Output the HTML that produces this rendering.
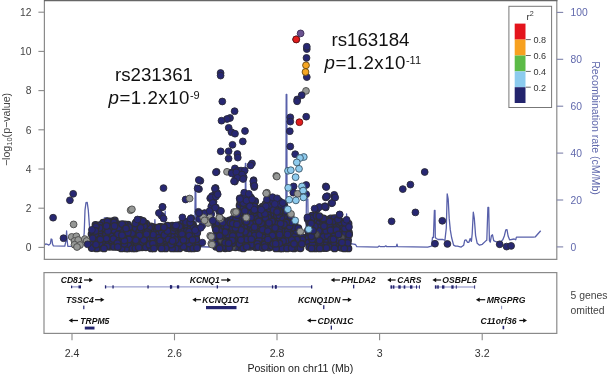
<!DOCTYPE html>
<html><head><meta charset="utf-8"><style>html,body{margin:0;padding:0;background:#fff;width:609px;height:375px;overflow:hidden}svg{display:block;will-change:transform}</style></head><body>
<svg width="609" height="375" viewBox="0 0 609 375">
<rect width="609" height="375" fill="#fff"/>
<path d="M44.3,245.1 L45.8,243.9 L47.3,244.3 L48.8,245.1 L50.4,243.6 L51.1,239.0 L51.9,239.3 L52.6,244.3 L53.4,245.9 L64.8,246.2 L66.0,240.6 L66.6,231.0 L67.2,240.6 L67.8,246.3 L82.5,246.3 L83.3,240.6 L84.2,233.0 L85.0,210.2 L86.0,202.6 L87.2,202.3 L88.3,210.2 L89.4,225.4 L90.3,234.5 L92.1,235.2 L100.0,236.0 L103.5,231.0 L104.3,217.8 L107.3,217.8 L108.0,231.0 L115.0,236.0 L150.0,236.0 L154.5,232.0 L154.9,219.6 L155.3,232.0 L164.8,232.0 L165.2,211.2 L165.6,232.0 L194.8,232.0 L195.2,185.0 L195.8,185.0 L196.2,246.5 L209.0,247.0 L209.5,240.0 L210.0,247.0 L240.0,246.0 L245.2,246.0 L245.4,163.5 L245.8,163.5 L246.1,240.0 L285.8,240.0 L286.2,94.4 L286.8,94.4 L287.1,240.0 L306.0,240.0 L306.4,199.0 L307.8,199.0 L308.3,231.0 L346.2,231.0 L346.6,214.0 L347.0,243.0 L353.6,244.1 L355.5,244.5 L356.8,246.7 L377.9,247.1 L379.2,246.0 L380.5,246.7 L384.5,246.7 L385.8,245.8 L386.8,246.7 L396.3,246.7 L397.0,244.1 L397.6,246.7 L427.7,247.1 L431.5,246.2 L432.5,237.5 L433.4,237.5 L434.4,210.3 L435.0,210.3 L435.3,237.5 L436.3,238.5 L438.2,239.5 L443.0,239.5 L444.9,240.4 L446.3,228.0 L447.2,193.8 L448.2,199.2 L449.2,218.4 L450.3,229.9 L451.6,237.5 L453.6,245.2 L455.5,246.2 L457.4,246.2 L461.2,247.1 L463.7,245.2 L464.7,240.4 L466.0,239.8 L467.6,242.3 L468.9,242.3 L470.2,238.5 L471.4,241.4 L472.2,233.7 L473.3,212.2 L474.3,218.4 L475.6,235.6 L477.2,243.3 L479.5,245.2 L482.3,244.3 L486.1,240.6 L486.8,240.2 L487.9,207.5 L488.7,207.5 L489.4,240.6 L490.3,242.1 L491.4,235.7 L492.5,234.8 L493.7,240.6 L495.2,241.3 L497.5,242.1 L499.7,242.8 L502.8,239.8 L504.3,236.0 L505.8,229.9 L507.0,229.6 L508.1,236.0 L509.6,239.8 L514.2,239.0 L515.7,239.8 L516.4,237.2 L533.1,237.2 L535.4,236.8 L540.7,230.7" fill="none" stroke="#5860aa" stroke-width="1.3" stroke-linejoin="round"/>
<circle cx="217.8" cy="239.5" r="3.3" fill="#262670" stroke="#2e2e36" stroke-width="1.3"/>
<circle cx="113.1" cy="242.6" r="3.3" fill="#262670" stroke="#2e2e36" stroke-width="1.3"/>
<circle cx="120.9" cy="226.9" r="3.3" fill="#262670" stroke="#2e2e36" stroke-width="1.3"/>
<circle cx="330.9" cy="218.5" r="3.3" fill="#262670" stroke="#2e2e36" stroke-width="1.3"/>
<circle cx="247.8" cy="242.5" r="3.4" fill="#4c4c54" stroke="#38383c" stroke-width="0.9"/>
<circle cx="170.9" cy="227.3" r="3.3" fill="#262670" stroke="#2e2e36" stroke-width="1.3"/>
<circle cx="117.0" cy="238.4" r="3.3" fill="#262670" stroke="#2e2e36" stroke-width="1.3"/>
<circle cx="219.7" cy="243.0" r="3.3" fill="#262670" stroke="#2e2e36" stroke-width="1.3"/>
<circle cx="255.6" cy="247.3" r="3.3" fill="#262670" stroke="#2e2e36" stroke-width="1.3"/>
<circle cx="265.7" cy="211.4" r="3.3" fill="#262670" stroke="#2e2e36" stroke-width="1.3"/>
<circle cx="334.5" cy="218.2" r="3.3" fill="#262670" stroke="#2e2e36" stroke-width="1.3"/>
<circle cx="251.8" cy="201.0" r="3.3" fill="#262670" stroke="#2e2e36" stroke-width="1.3"/>
<circle cx="244.0" cy="235.5" r="3.3" fill="#262670" stroke="#2e2e36" stroke-width="1.3"/>
<circle cx="326.8" cy="227.2" r="3.3" fill="#262670" stroke="#2e2e36" stroke-width="1.3"/>
<circle cx="178.4" cy="231.6" r="3.3" fill="#262670" stroke="#2e2e36" stroke-width="1.3"/>
<circle cx="225.2" cy="248.3" r="3.3" fill="#262670" stroke="#2e2e36" stroke-width="1.3"/>
<circle cx="113.0" cy="234.4" r="3.3" fill="#262670" stroke="#2e2e36" stroke-width="1.3"/>
<circle cx="117.6" cy="224.2" r="3.3" fill="#262670" stroke="#2e2e36" stroke-width="1.3"/>
<circle cx="140.1" cy="219.9" r="3.3" fill="#262670" stroke="#2e2e36" stroke-width="1.3"/>
<circle cx="230.3" cy="231.3" r="3.3" fill="#262670" stroke="#2e2e36" stroke-width="1.3"/>
<circle cx="341.4" cy="235.5" r="3.3" fill="#262670" stroke="#2e2e36" stroke-width="1.3"/>
<circle cx="330.5" cy="243.9" r="3.3" fill="#262670" stroke="#2e2e36" stroke-width="1.3"/>
<circle cx="265.6" cy="222.4" r="3.3" fill="#262670" stroke="#2e2e36" stroke-width="1.3"/>
<circle cx="178.9" cy="225.1" r="3.3" fill="#262670" stroke="#2e2e36" stroke-width="1.3"/>
<circle cx="237.6" cy="239.6" r="3.3" fill="#262670" stroke="#2e2e36" stroke-width="1.3"/>
<circle cx="102.3" cy="232.0" r="3.3" fill="#262670" stroke="#2e2e36" stroke-width="1.3"/>
<circle cx="132.0" cy="245.4" r="3.3" fill="#262670" stroke="#2e2e36" stroke-width="1.3"/>
<circle cx="240.5" cy="201.0" r="3.3" fill="#262670" stroke="#2e2e36" stroke-width="1.3"/>
<circle cx="273.1" cy="238.4" r="3.3" fill="#262670" stroke="#2e2e36" stroke-width="1.3"/>
<circle cx="265.4" cy="240.8" r="3.3" fill="#262670" stroke="#2e2e36" stroke-width="1.3"/>
<circle cx="283.7" cy="226.8" r="3.3" fill="#262670" stroke="#2e2e36" stroke-width="1.3"/>
<circle cx="196.0" cy="235.4" r="3.3" fill="#262670" stroke="#2e2e36" stroke-width="1.3"/>
<circle cx="127.8" cy="236.8" r="3.3" fill="#262670" stroke="#2e2e36" stroke-width="1.3"/>
<circle cx="326.1" cy="244.5" r="3.3" fill="#262670" stroke="#2e2e36" stroke-width="1.3"/>
<circle cx="324.1" cy="243.0" r="3.3" fill="#262670" stroke="#2e2e36" stroke-width="1.3"/>
<circle cx="229.7" cy="220.4" r="3.3" fill="#262670" stroke="#2e2e36" stroke-width="1.3"/>
<circle cx="348.5" cy="223.7" r="3.3" fill="#262670" stroke="#2e2e36" stroke-width="1.3"/>
<circle cx="91.6" cy="234.1" r="3.3" fill="#262670" stroke="#2e2e36" stroke-width="1.3"/>
<circle cx="323.3" cy="238.7" r="3.3" fill="#262670" stroke="#2e2e36" stroke-width="1.3"/>
<circle cx="308.8" cy="218.0" r="3.3" fill="#262670" stroke="#2e2e36" stroke-width="1.3"/>
<circle cx="134.6" cy="235.9" r="3.3" fill="#262670" stroke="#2e2e36" stroke-width="1.3"/>
<circle cx="221.6" cy="226.6" r="3.3" fill="#262670" stroke="#2e2e36" stroke-width="1.3"/>
<circle cx="225.8" cy="221.4" r="3.3" fill="#262670" stroke="#2e2e36" stroke-width="1.3"/>
<circle cx="312.1" cy="215.6" r="3.3" fill="#262670" stroke="#2e2e36" stroke-width="1.3"/>
<circle cx="150.7" cy="235.1" r="3.3" fill="#262670" stroke="#2e2e36" stroke-width="1.3"/>
<circle cx="280.6" cy="205.7" r="3.4" fill="#4c4c54" stroke="#38383c" stroke-width="0.9"/>
<circle cx="190.6" cy="239.9" r="3.3" fill="#262670" stroke="#2e2e36" stroke-width="1.3"/>
<circle cx="289.7" cy="230.0" r="3.3" fill="#262670" stroke="#2e2e36" stroke-width="1.3"/>
<circle cx="226.4" cy="222.2" r="3.3" fill="#262670" stroke="#2e2e36" stroke-width="1.3"/>
<circle cx="252.0" cy="230.2" r="3.3" fill="#262670" stroke="#2e2e36" stroke-width="1.3"/>
<circle cx="316.5" cy="222.7" r="3.3" fill="#262670" stroke="#2e2e36" stroke-width="1.3"/>
<circle cx="250.4" cy="197.8" r="3.3" fill="#262670" stroke="#2e2e36" stroke-width="1.3"/>
<circle cx="192.9" cy="243.1" r="3.3" fill="#262670" stroke="#2e2e36" stroke-width="1.3"/>
<circle cx="336.7" cy="242.9" r="3.3" fill="#262670" stroke="#2e2e36" stroke-width="1.3"/>
<circle cx="145.4" cy="243.7" r="3.3" fill="#262670" stroke="#2e2e36" stroke-width="1.3"/>
<circle cx="294.1" cy="231.4" r="3.3" fill="#262670" stroke="#2e2e36" stroke-width="1.3"/>
<circle cx="309.7" cy="226.9" r="3.3" fill="#262670" stroke="#2e2e36" stroke-width="1.3"/>
<circle cx="337.2" cy="247.0" r="3.3" fill="#262670" stroke="#2e2e36" stroke-width="1.3"/>
<circle cx="240.0" cy="247.6" r="3.3" fill="#262670" stroke="#2e2e36" stroke-width="1.3"/>
<circle cx="264.7" cy="236.0" r="3.3" fill="#262670" stroke="#2e2e36" stroke-width="1.3"/>
<circle cx="290.4" cy="234.2" r="3.3" fill="#262670" stroke="#2e2e36" stroke-width="1.3"/>
<circle cx="258.2" cy="214.7" r="3.3" fill="#262670" stroke="#2e2e36" stroke-width="1.3"/>
<circle cx="297.6" cy="243.8" r="3.3" fill="#262670" stroke="#2e2e36" stroke-width="1.3"/>
<circle cx="172.3" cy="225.8" r="3.3" fill="#262670" stroke="#2e2e36" stroke-width="1.3"/>
<circle cx="268.9" cy="202.9" r="3.3" fill="#262670" stroke="#2e2e36" stroke-width="1.3"/>
<circle cx="243.3" cy="214.0" r="3.3" fill="#262670" stroke="#2e2e36" stroke-width="1.3"/>
<circle cx="219.6" cy="223.0" r="3.3" fill="#262670" stroke="#2e2e36" stroke-width="1.3"/>
<circle cx="103.2" cy="222.6" r="3.3" fill="#262670" stroke="#2e2e36" stroke-width="1.3"/>
<circle cx="244.4" cy="243.6" r="3.3" fill="#262670" stroke="#2e2e36" stroke-width="1.3"/>
<circle cx="250.2" cy="246.8" r="3.3" fill="#262670" stroke="#2e2e36" stroke-width="1.3"/>
<circle cx="182.7" cy="227.5" r="3.3" fill="#262670" stroke="#2e2e36" stroke-width="1.3"/>
<circle cx="242.9" cy="198.4" r="3.3" fill="#262670" stroke="#2e2e36" stroke-width="1.3"/>
<circle cx="179.4" cy="248.4" r="3.3" fill="#262670" stroke="#2e2e36" stroke-width="1.3"/>
<circle cx="230.5" cy="238.3" r="3.3" fill="#262670" stroke="#2e2e36" stroke-width="1.3"/>
<circle cx="247.5" cy="229.6" r="3.3" fill="#262670" stroke="#2e2e36" stroke-width="1.3"/>
<circle cx="320.3" cy="236.0" r="3.3" fill="#262670" stroke="#2e2e36" stroke-width="1.3"/>
<circle cx="179.2" cy="234.2" r="3.3" fill="#262670" stroke="#2e2e36" stroke-width="1.3"/>
<circle cx="273.7" cy="218.6" r="3.3" fill="#262670" stroke="#2e2e36" stroke-width="1.3"/>
<circle cx="116.7" cy="231.2" r="3.3" fill="#262670" stroke="#2e2e36" stroke-width="1.3"/>
<circle cx="269.5" cy="208.8" r="3.3" fill="#262670" stroke="#2e2e36" stroke-width="1.3"/>
<circle cx="99.3" cy="232.6" r="3.3" fill="#262670" stroke="#2e2e36" stroke-width="1.3"/>
<circle cx="168.4" cy="243.1" r="3.3" fill="#262670" stroke="#2e2e36" stroke-width="1.3"/>
<circle cx="247.1" cy="209.4" r="3.3" fill="#262670" stroke="#2e2e36" stroke-width="1.3"/>
<circle cx="120.7" cy="245.0" r="3.3" fill="#262670" stroke="#2e2e36" stroke-width="1.3"/>
<circle cx="316.8" cy="219.6" r="3.3" fill="#262670" stroke="#2e2e36" stroke-width="1.3"/>
<circle cx="243.2" cy="239.3" r="3.3" fill="#262670" stroke="#2e2e36" stroke-width="1.3"/>
<circle cx="128.0" cy="224.6" r="3.3" fill="#262670" stroke="#2e2e36" stroke-width="1.3"/>
<circle cx="268.1" cy="226.0" r="3.3" fill="#262670" stroke="#2e2e36" stroke-width="1.3"/>
<circle cx="326.6" cy="238.9" r="3.3" fill="#262670" stroke="#2e2e36" stroke-width="1.3"/>
<circle cx="255.2" cy="219.6" r="3.3" fill="#262670" stroke="#2e2e36" stroke-width="1.3"/>
<circle cx="125.8" cy="236.0" r="3.3" fill="#262670" stroke="#2e2e36" stroke-width="1.3"/>
<circle cx="265.1" cy="226.6" r="3.3" fill="#262670" stroke="#2e2e36" stroke-width="1.3"/>
<circle cx="215.1" cy="225.5" r="3.3" fill="#262670" stroke="#2e2e36" stroke-width="1.3"/>
<circle cx="348.9" cy="232.4" r="3.3" fill="#262670" stroke="#2e2e36" stroke-width="1.3"/>
<circle cx="103.6" cy="239.8" r="3.3" fill="#262670" stroke="#2e2e36" stroke-width="1.3"/>
<circle cx="183.6" cy="242.0" r="3.3" fill="#262670" stroke="#2e2e36" stroke-width="1.3"/>
<circle cx="297.5" cy="235.0" r="3.3" fill="#262670" stroke="#2e2e36" stroke-width="1.3"/>
<circle cx="273.5" cy="213.4" r="3.3" fill="#262670" stroke="#2e2e36" stroke-width="1.3"/>
<circle cx="286.4" cy="213.9" r="3.3" fill="#262670" stroke="#2e2e36" stroke-width="1.3"/>
<circle cx="237.6" cy="243.6" r="3.3" fill="#262670" stroke="#2e2e36" stroke-width="1.3"/>
<circle cx="254.9" cy="223.1" r="3.3" fill="#262670" stroke="#2e2e36" stroke-width="1.3"/>
<circle cx="235.5" cy="247.3" r="3.3" fill="#262670" stroke="#2e2e36" stroke-width="1.3"/>
<circle cx="261.9" cy="239.4" r="3.3" fill="#262670" stroke="#2e2e36" stroke-width="1.3"/>
<circle cx="92.7" cy="243.2" r="3.3" fill="#262670" stroke="#2e2e36" stroke-width="1.3"/>
<circle cx="216.1" cy="246.7" r="3.3" fill="#262670" stroke="#2e2e36" stroke-width="1.3"/>
<circle cx="340.5" cy="231.1" r="3.3" fill="#262670" stroke="#2e2e36" stroke-width="1.3"/>
<circle cx="308.4" cy="235.7" r="3.3" fill="#262670" stroke="#2e2e36" stroke-width="1.3"/>
<circle cx="99.6" cy="247.8" r="3.3" fill="#262670" stroke="#2e2e36" stroke-width="1.3"/>
<circle cx="225.6" cy="239.9" r="3.3" fill="#262670" stroke="#2e2e36" stroke-width="1.3"/>
<circle cx="290.5" cy="217.2" r="3.3" fill="#262670" stroke="#2e2e36" stroke-width="1.3"/>
<circle cx="153.3" cy="227.3" r="3.3" fill="#262670" stroke="#2e2e36" stroke-width="1.3"/>
<circle cx="284.1" cy="243.8" r="3.3" fill="#262670" stroke="#2e2e36" stroke-width="1.3"/>
<circle cx="273.0" cy="206.5" r="3.3" fill="#262670" stroke="#2e2e36" stroke-width="1.3"/>
<circle cx="239.4" cy="244.1" r="3.3" fill="#262670" stroke="#2e2e36" stroke-width="1.3"/>
<circle cx="246.9" cy="234.1" r="3.3" fill="#262670" stroke="#2e2e36" stroke-width="1.3"/>
<circle cx="324.2" cy="231.5" r="3.3" fill="#262670" stroke="#2e2e36" stroke-width="1.3"/>
<circle cx="251.7" cy="228.1" r="3.3" fill="#262670" stroke="#2e2e36" stroke-width="1.3"/>
<circle cx="336.2" cy="240.0" r="3.3" fill="#262670" stroke="#2e2e36" stroke-width="1.3"/>
<circle cx="267.9" cy="215.1" r="3.3" fill="#262670" stroke="#2e2e36" stroke-width="1.3"/>
<circle cx="164.0" cy="244.5" r="3.3" fill="#262670" stroke="#2e2e36" stroke-width="1.3"/>
<circle cx="269.6" cy="243.0" r="3.3" fill="#262670" stroke="#2e2e36" stroke-width="1.3"/>
<circle cx="156.8" cy="246.1" r="3.3" fill="#262670" stroke="#2e2e36" stroke-width="1.3"/>
<circle cx="154.4" cy="230.4" r="3.3" fill="#262670" stroke="#2e2e36" stroke-width="1.3"/>
<circle cx="192.8" cy="231.9" r="3.3" fill="#262670" stroke="#2e2e36" stroke-width="1.3"/>
<circle cx="185.3" cy="235.6" r="3.3" fill="#262670" stroke="#2e2e36" stroke-width="1.3"/>
<circle cx="302.1" cy="237.2" r="3.3" fill="#262670" stroke="#2e2e36" stroke-width="1.3"/>
<circle cx="294.0" cy="248.4" r="3.3" fill="#262670" stroke="#2e2e36" stroke-width="1.3"/>
<circle cx="151.3" cy="231.4" r="3.3" fill="#262670" stroke="#2e2e36" stroke-width="1.3"/>
<circle cx="174.4" cy="230.8" r="3.3" fill="#262670" stroke="#2e2e36" stroke-width="1.3"/>
<circle cx="178.4" cy="240.2" r="3.3" fill="#262670" stroke="#2e2e36" stroke-width="1.3"/>
<circle cx="291.7" cy="242.3" r="3.3" fill="#262670" stroke="#2e2e36" stroke-width="1.3"/>
<circle cx="230.4" cy="226.1" r="3.3" fill="#262670" stroke="#2e2e36" stroke-width="1.3"/>
<circle cx="276.4" cy="218.8" r="3.3" fill="#262670" stroke="#2e2e36" stroke-width="1.3"/>
<circle cx="157.1" cy="230.4" r="3.3" fill="#262670" stroke="#2e2e36" stroke-width="1.3"/>
<circle cx="284.3" cy="214.2" r="3.3" fill="#262670" stroke="#2e2e36" stroke-width="1.3"/>
<circle cx="146.0" cy="225.6" r="3.3" fill="#262670" stroke="#2e2e36" stroke-width="1.3"/>
<circle cx="308.4" cy="238.3" r="3.3" fill="#262670" stroke="#2e2e36" stroke-width="1.3"/>
<circle cx="330.5" cy="235.6" r="3.3" fill="#262670" stroke="#2e2e36" stroke-width="1.3"/>
<circle cx="114.8" cy="220.5" r="3.3" fill="#262670" stroke="#2e2e36" stroke-width="1.3"/>
<circle cx="275.2" cy="241.2" r="3.3" fill="#262670" stroke="#2e2e36" stroke-width="1.3"/>
<circle cx="226.6" cy="226.2" r="3.3" fill="#262670" stroke="#2e2e36" stroke-width="1.3"/>
<circle cx="295.0" cy="236.5" r="3.3" fill="#262670" stroke="#2e2e36" stroke-width="1.3"/>
<circle cx="237.1" cy="231.2" r="3.3" fill="#262670" stroke="#2e2e36" stroke-width="1.3"/>
<circle cx="259.2" cy="229.7" r="3.3" fill="#262670" stroke="#2e2e36" stroke-width="1.3"/>
<circle cx="280.1" cy="248.4" r="3.3" fill="#262670" stroke="#2e2e36" stroke-width="1.3"/>
<circle cx="139.4" cy="244.0" r="3.3" fill="#262670" stroke="#2e2e36" stroke-width="1.3"/>
<circle cx="181.9" cy="230.8" r="3.3" fill="#262670" stroke="#2e2e36" stroke-width="1.3"/>
<circle cx="286.9" cy="227.9" r="3.3" fill="#262670" stroke="#2e2e36" stroke-width="1.3"/>
<circle cx="344.1" cy="234.8" r="3.3" fill="#262670" stroke="#2e2e36" stroke-width="1.3"/>
<circle cx="174.4" cy="236.2" r="3.3" fill="#262670" stroke="#2e2e36" stroke-width="1.3"/>
<circle cx="319.4" cy="223.2" r="3.3" fill="#262670" stroke="#2e2e36" stroke-width="1.3"/>
<circle cx="242.8" cy="223.3" r="3.3" fill="#262670" stroke="#2e2e36" stroke-width="1.3"/>
<circle cx="275.3" cy="205.9" r="3.3" fill="#262670" stroke="#2e2e36" stroke-width="1.3"/>
<circle cx="240.2" cy="210.3" r="3.3" fill="#262670" stroke="#2e2e36" stroke-width="1.3"/>
<circle cx="323.4" cy="236.7" r="3.3" fill="#262670" stroke="#2e2e36" stroke-width="1.3"/>
<circle cx="262.1" cy="226.2" r="3.3" fill="#262670" stroke="#2e2e36" stroke-width="1.3"/>
<circle cx="192.9" cy="224.8" r="3.3" fill="#262670" stroke="#2e2e36" stroke-width="1.3"/>
<circle cx="314.7" cy="244.8" r="3.3" fill="#262670" stroke="#2e2e36" stroke-width="1.3"/>
<circle cx="277.0" cy="215.9" r="3.3" fill="#262670" stroke="#2e2e36" stroke-width="1.3"/>
<circle cx="247.1" cy="226.5" r="3.3" fill="#262670" stroke="#2e2e36" stroke-width="1.3"/>
<circle cx="262.6" cy="206.8" r="3.3" fill="#262670" stroke="#2e2e36" stroke-width="1.3"/>
<circle cx="250.7" cy="215.3" r="3.3" fill="#262670" stroke="#2e2e36" stroke-width="1.3"/>
<circle cx="345.7" cy="240.8" r="3.3" fill="#262670" stroke="#2e2e36" stroke-width="1.3"/>
<circle cx="160.2" cy="234.9" r="3.3" fill="#262670" stroke="#2e2e36" stroke-width="1.3"/>
<circle cx="172.3" cy="231.2" r="3.3" fill="#262670" stroke="#2e2e36" stroke-width="1.3"/>
<circle cx="282.2" cy="248.4" r="3.3" fill="#262670" stroke="#2e2e36" stroke-width="1.3"/>
<circle cx="145.4" cy="238.9" r="3.3" fill="#262670" stroke="#2e2e36" stroke-width="1.3"/>
<circle cx="284.0" cy="205.5" r="3.3" fill="#262670" stroke="#2e2e36" stroke-width="1.3"/>
<circle cx="261.0" cy="243.9" r="3.3" fill="#262670" stroke="#2e2e36" stroke-width="1.3"/>
<circle cx="341.3" cy="247.8" r="3.3" fill="#262670" stroke="#2e2e36" stroke-width="1.3"/>
<circle cx="217.5" cy="227.5" r="3.3" fill="#262670" stroke="#2e2e36" stroke-width="1.3"/>
<circle cx="284.5" cy="235.6" r="3.3" fill="#262670" stroke="#2e2e36" stroke-width="1.3"/>
<circle cx="198.2" cy="244.3" r="3.3" fill="#262670" stroke="#2e2e36" stroke-width="1.3"/>
<circle cx="308.3" cy="242.6" r="3.3" fill="#262670" stroke="#2e2e36" stroke-width="1.3"/>
<circle cx="239.6" cy="205.4" r="3.3" fill="#262670" stroke="#2e2e36" stroke-width="1.3"/>
<circle cx="110.6" cy="230.9" r="3.3" fill="#262670" stroke="#2e2e36" stroke-width="1.3"/>
<circle cx="240.6" cy="202.0" r="3.3" fill="#262670" stroke="#2e2e36" stroke-width="1.3"/>
<circle cx="257.6" cy="209.5" r="3.3" fill="#262670" stroke="#2e2e36" stroke-width="1.3"/>
<circle cx="261.5" cy="218.7" r="3.3" fill="#262670" stroke="#2e2e36" stroke-width="1.3"/>
<circle cx="262.6" cy="209.1" r="3.3" fill="#262670" stroke="#2e2e36" stroke-width="1.3"/>
<circle cx="109.4" cy="238.8" r="3.3" fill="#262670" stroke="#2e2e36" stroke-width="1.3"/>
<circle cx="244.5" cy="227.9" r="3.3" fill="#262670" stroke="#2e2e36" stroke-width="1.3"/>
<circle cx="320.3" cy="217.9" r="3.3" fill="#262670" stroke="#2e2e36" stroke-width="1.3"/>
<circle cx="251.8" cy="209.3" r="3.3" fill="#262670" stroke="#2e2e36" stroke-width="1.3"/>
<circle cx="243.3" cy="248.4" r="3.3" fill="#262670" stroke="#2e2e36" stroke-width="1.3"/>
<circle cx="327.7" cy="235.7" r="3.3" fill="#262670" stroke="#2e2e36" stroke-width="1.3"/>
<circle cx="157.2" cy="234.6" r="3.3" fill="#262670" stroke="#2e2e36" stroke-width="1.3"/>
<circle cx="167.5" cy="225.6" r="3.3" fill="#262670" stroke="#2e2e36" stroke-width="1.3"/>
<circle cx="257.5" cy="208.8" r="3.3" fill="#262670" stroke="#2e2e36" stroke-width="1.3"/>
<circle cx="268.2" cy="217.9" r="3.3" fill="#262670" stroke="#2e2e36" stroke-width="1.3"/>
<circle cx="326.7" cy="219.8" r="3.3" fill="#262670" stroke="#2e2e36" stroke-width="1.3"/>
<circle cx="128.2" cy="248.4" r="3.3" fill="#262670" stroke="#2e2e36" stroke-width="1.3"/>
<circle cx="287.4" cy="243.4" r="3.3" fill="#262670" stroke="#2e2e36" stroke-width="1.3"/>
<circle cx="297.6" cy="247.5" r="3.3" fill="#262670" stroke="#2e2e36" stroke-width="1.3"/>
<circle cx="187.0" cy="226.7" r="3.3" fill="#262670" stroke="#2e2e36" stroke-width="1.3"/>
<circle cx="345.1" cy="232.5" r="3.3" fill="#262670" stroke="#2e2e36" stroke-width="1.3"/>
<circle cx="279.6" cy="218.9" r="3.3" fill="#262670" stroke="#2e2e36" stroke-width="1.3"/>
<circle cx="318.3" cy="227.4" r="3.3" fill="#262670" stroke="#2e2e36" stroke-width="1.3"/>
<circle cx="269.3" cy="247.6" r="3.3" fill="#262670" stroke="#2e2e36" stroke-width="1.3"/>
<circle cx="186.2" cy="243.3" r="3.4" fill="#4c4c54" stroke="#38383c" stroke-width="0.9"/>
<circle cx="287.1" cy="248.4" r="3.3" fill="#262670" stroke="#2e2e36" stroke-width="1.3"/>
<circle cx="253.8" cy="214.7" r="3.3" fill="#262670" stroke="#2e2e36" stroke-width="1.3"/>
<circle cx="150.8" cy="226.5" r="3.3" fill="#262670" stroke="#2e2e36" stroke-width="1.3"/>
<circle cx="279.4" cy="228.6" r="3.3" fill="#262670" stroke="#2e2e36" stroke-width="1.3"/>
<circle cx="296.7" cy="230.9" r="3.3" fill="#262670" stroke="#2e2e36" stroke-width="1.3"/>
<circle cx="172.0" cy="237.0" r="3.3" fill="#262670" stroke="#2e2e36" stroke-width="1.3"/>
<circle cx="307.7" cy="219.1" r="3.3" fill="#262670" stroke="#2e2e36" stroke-width="1.3"/>
<circle cx="125.7" cy="230.9" r="3.3" fill="#262670" stroke="#2e2e36" stroke-width="1.3"/>
<circle cx="259.2" cy="225.2" r="3.3" fill="#262670" stroke="#2e2e36" stroke-width="1.3"/>
<circle cx="323.3" cy="222.7" r="3.3" fill="#262670" stroke="#2e2e36" stroke-width="1.3"/>
<circle cx="186.7" cy="248.0" r="3.3" fill="#262670" stroke="#2e2e36" stroke-width="1.3"/>
<circle cx="316.9" cy="231.8" r="3.3" fill="#262670" stroke="#2e2e36" stroke-width="1.3"/>
<circle cx="93.1" cy="231.7" r="3.3" fill="#262670" stroke="#2e2e36" stroke-width="1.3"/>
<circle cx="250.2" cy="234.8" r="3.3" fill="#262670" stroke="#2e2e36" stroke-width="1.3"/>
<circle cx="232.8" cy="229.9" r="3.3" fill="#262670" stroke="#2e2e36" stroke-width="1.3"/>
<circle cx="164.6" cy="229.6" r="3.3" fill="#262670" stroke="#2e2e36" stroke-width="1.3"/>
<circle cx="341.9" cy="226.3" r="3.3" fill="#262670" stroke="#2e2e36" stroke-width="1.3"/>
<circle cx="325.5" cy="223.2" r="3.3" fill="#262670" stroke="#2e2e36" stroke-width="1.3"/>
<circle cx="311.6" cy="226.9" r="3.3" fill="#262670" stroke="#2e2e36" stroke-width="1.3"/>
<circle cx="311.6" cy="218.2" r="3.3" fill="#262670" stroke="#2e2e36" stroke-width="1.3"/>
<circle cx="241.4" cy="219.1" r="3.3" fill="#262670" stroke="#2e2e36" stroke-width="1.3"/>
<circle cx="174.2" cy="244.7" r="3.3" fill="#262670" stroke="#2e2e36" stroke-width="1.3"/>
<circle cx="122.2" cy="240.8" r="3.3" fill="#262670" stroke="#2e2e36" stroke-width="1.3"/>
<circle cx="104.5" cy="235.6" r="3.3" fill="#262670" stroke="#2e2e36" stroke-width="1.3"/>
<circle cx="262.7" cy="235.0" r="3.3" fill="#262670" stroke="#2e2e36" stroke-width="1.3"/>
<circle cx="245.0" cy="231.8" r="3.3" fill="#262670" stroke="#2e2e36" stroke-width="1.3"/>
<circle cx="110.6" cy="243.5" r="3.3" fill="#262670" stroke="#2e2e36" stroke-width="1.3"/>
<circle cx="160.5" cy="227.2" r="3.3" fill="#262670" stroke="#2e2e36" stroke-width="1.3"/>
<circle cx="348.0" cy="240.1" r="3.3" fill="#262670" stroke="#2e2e36" stroke-width="1.3"/>
<circle cx="161.9" cy="232.1" r="3.3" fill="#262670" stroke="#2e2e36" stroke-width="1.3"/>
<circle cx="320.2" cy="243.5" r="3.3" fill="#262670" stroke="#2e2e36" stroke-width="1.3"/>
<circle cx="255.0" cy="201.6" r="3.3" fill="#262670" stroke="#2e2e36" stroke-width="1.3"/>
<circle cx="150.7" cy="238.5" r="3.3" fill="#262670" stroke="#2e2e36" stroke-width="1.3"/>
<circle cx="264.6" cy="244.3" r="3.3" fill="#262670" stroke="#2e2e36" stroke-width="1.3"/>
<circle cx="257.7" cy="218.6" r="3.3" fill="#262670" stroke="#2e2e36" stroke-width="1.3"/>
<circle cx="105.9" cy="243.7" r="3.3" fill="#262670" stroke="#2e2e36" stroke-width="1.3"/>
<circle cx="222.3" cy="244.2" r="3.3" fill="#262670" stroke="#2e2e36" stroke-width="1.3"/>
<circle cx="265.3" cy="218.0" r="3.3" fill="#262670" stroke="#2e2e36" stroke-width="1.3"/>
<circle cx="99.9" cy="236.6" r="3.3" fill="#262670" stroke="#2e2e36" stroke-width="1.3"/>
<circle cx="295.1" cy="240.9" r="3.3" fill="#262670" stroke="#2e2e36" stroke-width="1.3"/>
<circle cx="190.8" cy="224.7" r="3.3" fill="#262670" stroke="#2e2e36" stroke-width="1.3"/>
<circle cx="167.9" cy="234.2" r="3.3" fill="#262670" stroke="#2e2e36" stroke-width="1.3"/>
<circle cx="142.1" cy="247.3" r="3.3" fill="#262670" stroke="#2e2e36" stroke-width="1.3"/>
<circle cx="336.3" cy="223.4" r="3.3" fill="#262670" stroke="#2e2e36" stroke-width="1.3"/>
<circle cx="239.6" cy="213.0" r="3.3" fill="#262670" stroke="#2e2e36" stroke-width="1.3"/>
<circle cx="254.8" cy="231.4" r="3.3" fill="#262670" stroke="#2e2e36" stroke-width="1.3"/>
<circle cx="136.8" cy="244.3" r="3.3" fill="#262670" stroke="#2e2e36" stroke-width="1.3"/>
<circle cx="294.5" cy="223.1" r="3.3" fill="#262670" stroke="#2e2e36" stroke-width="1.3"/>
<circle cx="309.2" cy="246.9" r="3.3" fill="#262670" stroke="#2e2e36" stroke-width="1.3"/>
<circle cx="253.7" cy="240.2" r="3.3" fill="#262670" stroke="#2e2e36" stroke-width="1.3"/>
<circle cx="240.8" cy="226.0" r="3.3" fill="#262670" stroke="#2e2e36" stroke-width="1.3"/>
<circle cx="126.2" cy="248.4" r="3.3" fill="#262670" stroke="#2e2e36" stroke-width="1.3"/>
<circle cx="237.7" cy="236.1" r="3.3" fill="#262670" stroke="#2e2e36" stroke-width="1.3"/>
<circle cx="140.4" cy="239.6" r="3.3" fill="#262670" stroke="#2e2e36" stroke-width="1.3"/>
<circle cx="312.5" cy="244.7" r="3.3" fill="#262670" stroke="#2e2e36" stroke-width="1.3"/>
<circle cx="110.8" cy="235.9" r="3.3" fill="#262670" stroke="#2e2e36" stroke-width="1.3"/>
<circle cx="272.0" cy="230.9" r="3.3" fill="#262670" stroke="#2e2e36" stroke-width="1.3"/>
<circle cx="187.0" cy="230.6" r="3.3" fill="#262670" stroke="#2e2e36" stroke-width="1.3"/>
<circle cx="283.9" cy="232.0" r="3.3" fill="#262670" stroke="#2e2e36" stroke-width="1.3"/>
<circle cx="347.7" cy="228.1" r="3.3" fill="#262670" stroke="#2e2e36" stroke-width="1.3"/>
<circle cx="255.2" cy="243.1" r="3.3" fill="#262670" stroke="#2e2e36" stroke-width="1.3"/>
<circle cx="279.4" cy="215.4" r="3.3" fill="#262670" stroke="#2e2e36" stroke-width="1.3"/>
<circle cx="268.4" cy="234.1" r="3.3" fill="#262670" stroke="#2e2e36" stroke-width="1.3"/>
<circle cx="251.3" cy="244.7" r="3.3" fill="#262670" stroke="#2e2e36" stroke-width="1.3"/>
<circle cx="158.4" cy="237.9" r="3.3" fill="#262670" stroke="#2e2e36" stroke-width="1.3"/>
<circle cx="264.2" cy="231.1" r="3.3" fill="#262670" stroke="#2e2e36" stroke-width="1.3"/>
<circle cx="125.0" cy="224.5" r="3.3" fill="#262670" stroke="#2e2e36" stroke-width="1.3"/>
<circle cx="258.8" cy="239.6" r="3.3" fill="#262670" stroke="#2e2e36" stroke-width="1.3"/>
<circle cx="334.8" cy="234.1" r="3.3" fill="#262670" stroke="#2e2e36" stroke-width="1.3"/>
<circle cx="97.1" cy="238.7" r="3.3" fill="#262670" stroke="#2e2e36" stroke-width="1.3"/>
<circle cx="300.4" cy="248.2" r="3.3" fill="#262670" stroke="#2e2e36" stroke-width="1.3"/>
<circle cx="333.2" cy="243.1" r="3.3" fill="#262670" stroke="#2e2e36" stroke-width="1.3"/>
<circle cx="167.1" cy="246.8" r="3.3" fill="#262670" stroke="#2e2e36" stroke-width="1.3"/>
<circle cx="261.2" cy="223.4" r="3.3" fill="#262670" stroke="#2e2e36" stroke-width="1.3"/>
<circle cx="183.1" cy="221.9" r="3.3" fill="#262670" stroke="#2e2e36" stroke-width="1.3"/>
<circle cx="326.2" cy="230.7" r="3.3" fill="#262670" stroke="#2e2e36" stroke-width="1.3"/>
<circle cx="282.3" cy="210.3" r="3.3" fill="#262670" stroke="#2e2e36" stroke-width="1.3"/>
<circle cx="215.3" cy="244.3" r="3.3" fill="#262670" stroke="#2e2e36" stroke-width="1.3"/>
<circle cx="239.8" cy="234.6" r="3.3" fill="#262670" stroke="#2e2e36" stroke-width="1.3"/>
<circle cx="109.8" cy="246.8" r="3.3" fill="#262670" stroke="#2e2e36" stroke-width="1.3"/>
<circle cx="96.5" cy="248.4" r="3.3" fill="#262670" stroke="#2e2e36" stroke-width="1.3"/>
<circle cx="254.9" cy="201.2" r="3.3" fill="#262670" stroke="#2e2e36" stroke-width="1.3"/>
<circle cx="175.7" cy="248.4" r="3.3" fill="#262670" stroke="#2e2e36" stroke-width="1.3"/>
<circle cx="142.4" cy="242.2" r="3.3" fill="#262670" stroke="#2e2e36" stroke-width="1.3"/>
<circle cx="332.6" cy="222.3" r="3.3" fill="#262670" stroke="#2e2e36" stroke-width="1.3"/>
<circle cx="145.9" cy="247.3" r="3.3" fill="#262670" stroke="#2e2e36" stroke-width="1.3"/>
<circle cx="248.5" cy="213.4" r="3.3" fill="#262670" stroke="#2e2e36" stroke-width="1.3"/>
<circle cx="164.3" cy="238.0" r="3.3" fill="#262670" stroke="#2e2e36" stroke-width="1.3"/>
<circle cx="232.9" cy="219.0" r="3.3" fill="#262670" stroke="#2e2e36" stroke-width="1.3"/>
<circle cx="113.9" cy="229.9" r="3.3" fill="#262670" stroke="#2e2e36" stroke-width="1.3"/>
<circle cx="114.0" cy="246.9" r="3.3" fill="#262670" stroke="#2e2e36" stroke-width="1.3"/>
<circle cx="143.5" cy="235.2" r="3.3" fill="#262670" stroke="#2e2e36" stroke-width="1.3"/>
<circle cx="341.3" cy="222.0" r="3.3" fill="#262670" stroke="#2e2e36" stroke-width="1.3"/>
<circle cx="149.2" cy="227.7" r="3.3" fill="#262670" stroke="#2e2e36" stroke-width="1.3"/>
<circle cx="240.9" cy="229.8" r="3.3" fill="#262670" stroke="#2e2e36" stroke-width="1.3"/>
<circle cx="247.2" cy="217.5" r="3.3" fill="#262670" stroke="#2e2e36" stroke-width="1.3"/>
<circle cx="128.4" cy="244.0" r="3.3" fill="#262670" stroke="#2e2e36" stroke-width="1.3"/>
<circle cx="286.2" cy="240.4" r="3.3" fill="#262670" stroke="#2e2e36" stroke-width="1.3"/>
<circle cx="261.0" cy="214.4" r="3.3" fill="#262670" stroke="#2e2e36" stroke-width="1.3"/>
<circle cx="164.5" cy="235.0" r="3.3" fill="#262670" stroke="#2e2e36" stroke-width="1.3"/>
<circle cx="146.2" cy="223.7" r="3.3" fill="#262670" stroke="#2e2e36" stroke-width="1.3"/>
<circle cx="214.5" cy="238.6" r="3.3" fill="#262670" stroke="#2e2e36" stroke-width="1.3"/>
<circle cx="103.0" cy="244.5" r="3.3" fill="#262670" stroke="#2e2e36" stroke-width="1.3"/>
<circle cx="222.7" cy="247.3" r="3.3" fill="#262670" stroke="#2e2e36" stroke-width="1.3"/>
<circle cx="186.7" cy="224.4" r="3.3" fill="#262670" stroke="#2e2e36" stroke-width="1.3"/>
<circle cx="140.5" cy="222.3" r="3.3" fill="#262670" stroke="#2e2e36" stroke-width="1.3"/>
<circle cx="257.3" cy="243.9" r="3.3" fill="#262670" stroke="#2e2e36" stroke-width="1.3"/>
<circle cx="239.1" cy="222.5" r="3.3" fill="#262670" stroke="#2e2e36" stroke-width="1.3"/>
<circle cx="91.8" cy="248.1" r="3.3" fill="#262670" stroke="#2e2e36" stroke-width="1.3"/>
<circle cx="250.3" cy="205.7" r="3.3" fill="#262670" stroke="#2e2e36" stroke-width="1.3"/>
<circle cx="271.9" cy="227.3" r="3.3" fill="#262670" stroke="#2e2e36" stroke-width="1.3"/>
<circle cx="236.0" cy="219.0" r="3.3" fill="#262670" stroke="#2e2e36" stroke-width="1.3"/>
<circle cx="182.0" cy="234.1" r="3.3" fill="#262670" stroke="#2e2e36" stroke-width="1.3"/>
<circle cx="293.2" cy="227.5" r="3.3" fill="#262670" stroke="#2e2e36" stroke-width="1.3"/>
<circle cx="222.5" cy="232.3" r="3.3" fill="#262670" stroke="#2e2e36" stroke-width="1.3"/>
<circle cx="95.3" cy="234.5" r="3.3" fill="#262670" stroke="#2e2e36" stroke-width="1.3"/>
<circle cx="349.1" cy="234.6" r="3.3" fill="#262670" stroke="#2e2e36" stroke-width="1.3"/>
<circle cx="172.1" cy="248.4" r="3.3" fill="#262670" stroke="#2e2e36" stroke-width="1.3"/>
<circle cx="258.8" cy="221.3" r="3.3" fill="#262670" stroke="#2e2e36" stroke-width="1.3"/>
<circle cx="331.2" cy="239.5" r="3.3" fill="#262670" stroke="#2e2e36" stroke-width="1.3"/>
<circle cx="215.5" cy="227.6" r="3.3" fill="#262670" stroke="#2e2e36" stroke-width="1.3"/>
<circle cx="167.4" cy="231.0" r="3.3" fill="#262670" stroke="#2e2e36" stroke-width="1.3"/>
<circle cx="287.7" cy="231.3" r="3.3" fill="#262670" stroke="#2e2e36" stroke-width="1.3"/>
<circle cx="336.8" cy="227.5" r="3.3" fill="#262670" stroke="#2e2e36" stroke-width="1.3"/>
<circle cx="152.9" cy="238.5" r="3.3" fill="#262670" stroke="#2e2e36" stroke-width="1.3"/>
<circle cx="276.7" cy="223.9" r="3.3" fill="#262670" stroke="#2e2e36" stroke-width="1.3"/>
<circle cx="275.8" cy="230.9" r="3.3" fill="#262670" stroke="#2e2e36" stroke-width="1.3"/>
<circle cx="218.0" cy="222.6" r="3.3" fill="#262670" stroke="#2e2e36" stroke-width="1.3"/>
<circle cx="190.0" cy="248.4" r="3.3" fill="#262670" stroke="#2e2e36" stroke-width="1.3"/>
<circle cx="144.2" cy="223.0" r="3.3" fill="#262670" stroke="#2e2e36" stroke-width="1.3"/>
<circle cx="280.4" cy="239.4" r="3.3" fill="#262670" stroke="#2e2e36" stroke-width="1.3"/>
<circle cx="302.2" cy="239.7" r="3.3" fill="#262670" stroke="#2e2e36" stroke-width="1.3"/>
<circle cx="168.6" cy="239.4" r="3.3" fill="#262670" stroke="#2e2e36" stroke-width="1.3"/>
<circle cx="334.0" cy="227.8" r="3.3" fill="#262670" stroke="#2e2e36" stroke-width="1.3"/>
<circle cx="243.5" cy="207.4" r="3.3" fill="#262670" stroke="#2e2e36" stroke-width="1.3"/>
<circle cx="330.1" cy="227.3" r="3.3" fill="#262670" stroke="#2e2e36" stroke-width="1.3"/>
<circle cx="329.0" cy="246.9" r="3.3" fill="#262670" stroke="#2e2e36" stroke-width="1.3"/>
<circle cx="265.6" cy="204.0" r="3.3" fill="#262670" stroke="#2e2e36" stroke-width="1.3"/>
<circle cx="309.3" cy="222.4" r="3.3" fill="#262670" stroke="#2e2e36" stroke-width="1.3"/>
<circle cx="131.5" cy="239.8" r="3.3" fill="#262670" stroke="#2e2e36" stroke-width="1.3"/>
<circle cx="345.2" cy="222.4" r="3.3" fill="#262670" stroke="#2e2e36" stroke-width="1.3"/>
<circle cx="284.4" cy="206.8" r="3.3" fill="#262670" stroke="#2e2e36" stroke-width="1.3"/>
<circle cx="226.5" cy="235.8" r="3.3" fill="#262670" stroke="#2e2e36" stroke-width="1.3"/>
<circle cx="316.4" cy="215.7" r="3.3" fill="#262670" stroke="#2e2e36" stroke-width="1.3"/>
<circle cx="121.5" cy="248.4" r="3.3" fill="#262670" stroke="#2e2e36" stroke-width="1.3"/>
<circle cx="232.7" cy="227.8" r="3.3" fill="#262670" stroke="#2e2e36" stroke-width="1.3"/>
<circle cx="323.8" cy="248.0" r="3.3" fill="#262670" stroke="#2e2e36" stroke-width="1.3"/>
<circle cx="134.6" cy="232.6" r="3.3" fill="#262670" stroke="#2e2e36" stroke-width="1.3"/>
<circle cx="183.5" cy="246.7" r="3.3" fill="#262670" stroke="#2e2e36" stroke-width="1.3"/>
<circle cx="170.9" cy="244.5" r="3.3" fill="#262670" stroke="#2e2e36" stroke-width="1.3"/>
<circle cx="247.0" cy="239.5" r="3.3" fill="#262670" stroke="#2e2e36" stroke-width="1.3"/>
<circle cx="165.7" cy="248.4" r="3.3" fill="#262670" stroke="#2e2e36" stroke-width="1.3"/>
<circle cx="99.7" cy="243.6" r="3.3" fill="#262670" stroke="#2e2e36" stroke-width="1.3"/>
<circle cx="131.6" cy="236.4" r="3.3" fill="#262670" stroke="#2e2e36" stroke-width="1.3"/>
<circle cx="157.5" cy="242.3" r="3.3" fill="#262670" stroke="#2e2e36" stroke-width="1.3"/>
<circle cx="214.9" cy="236.1" r="3.3" fill="#262670" stroke="#2e2e36" stroke-width="1.3"/>
<circle cx="219.6" cy="248.4" r="3.3" fill="#262670" stroke="#2e2e36" stroke-width="1.3"/>
<circle cx="160.4" cy="227.0" r="3.3" fill="#262670" stroke="#2e2e36" stroke-width="1.3"/>
<circle cx="132.6" cy="248.4" r="3.3" fill="#262670" stroke="#2e2e36" stroke-width="1.3"/>
<circle cx="221.5" cy="240.1" r="3.4" fill="#4c4c54" stroke="#38383c" stroke-width="0.9"/>
<circle cx="283.1" cy="219.1" r="3.3" fill="#262670" stroke="#2e2e36" stroke-width="1.3"/>
<circle cx="286.5" cy="211.4" r="3.3" fill="#262670" stroke="#2e2e36" stroke-width="1.3"/>
<circle cx="269.6" cy="205.7" r="3.3" fill="#262670" stroke="#2e2e36" stroke-width="1.3"/>
<circle cx="315.5" cy="248.4" r="3.3" fill="#262670" stroke="#2e2e36" stroke-width="1.3"/>
<circle cx="106.0" cy="234.5" r="3.3" fill="#262670" stroke="#2e2e36" stroke-width="1.3"/>
<circle cx="289.5" cy="226.3" r="3.3" fill="#262670" stroke="#2e2e36" stroke-width="1.3"/>
<circle cx="179.4" cy="226.5" r="3.3" fill="#262670" stroke="#2e2e36" stroke-width="1.3"/>
<circle cx="344.4" cy="244.0" r="3.3" fill="#262670" stroke="#2e2e36" stroke-width="1.3"/>
<circle cx="189.3" cy="243.5" r="3.3" fill="#262670" stroke="#2e2e36" stroke-width="1.3"/>
<circle cx="272.0" cy="246.3" r="3.3" fill="#262670" stroke="#2e2e36" stroke-width="1.3"/>
<circle cx="121.1" cy="230.5" r="3.3" fill="#262670" stroke="#2e2e36" stroke-width="1.3"/>
<circle cx="230.4" cy="222.9" r="3.3" fill="#262670" stroke="#2e2e36" stroke-width="1.3"/>
<circle cx="297.0" cy="239.6" r="3.3" fill="#262670" stroke="#2e2e36" stroke-width="1.3"/>
<circle cx="279.3" cy="232.2" r="3.3" fill="#262670" stroke="#2e2e36" stroke-width="1.3"/>
<circle cx="316.5" cy="239.0" r="3.3" fill="#262670" stroke="#2e2e36" stroke-width="1.3"/>
<circle cx="225.1" cy="242.6" r="3.3" fill="#262670" stroke="#2e2e36" stroke-width="1.3"/>
<circle cx="109.5" cy="227.4" r="3.3" fill="#262670" stroke="#2e2e36" stroke-width="1.3"/>
<circle cx="254.9" cy="235.3" r="3.3" fill="#262670" stroke="#2e2e36" stroke-width="1.3"/>
<circle cx="95.5" cy="224.9" r="3.3" fill="#262670" stroke="#2e2e36" stroke-width="1.3"/>
<circle cx="192.9" cy="236.3" r="3.3" fill="#262670" stroke="#2e2e36" stroke-width="1.3"/>
<circle cx="318.8" cy="230.8" r="3.3" fill="#262670" stroke="#2e2e36" stroke-width="1.3"/>
<circle cx="319.5" cy="240.6" r="3.3" fill="#262670" stroke="#2e2e36" stroke-width="1.3"/>
<circle cx="129.1" cy="239.3" r="3.3" fill="#262670" stroke="#2e2e36" stroke-width="1.3"/>
<circle cx="275.5" cy="200.9" r="3.3" fill="#262670" stroke="#2e2e36" stroke-width="1.3"/>
<circle cx="348.4" cy="248.4" r="3.3" fill="#262670" stroke="#2e2e36" stroke-width="1.3"/>
<circle cx="111.2" cy="221.4" r="3.3" fill="#262670" stroke="#2e2e36" stroke-width="1.3"/>
<circle cx="151.2" cy="248.4" r="3.3" fill="#262670" stroke="#2e2e36" stroke-width="1.3"/>
<circle cx="132.1" cy="233.2" r="3.3" fill="#262670" stroke="#2e2e36" stroke-width="1.3"/>
<circle cx="99.8" cy="225.1" r="3.3" fill="#262670" stroke="#2e2e36" stroke-width="1.3"/>
<circle cx="143.7" cy="240.0" r="3.3" fill="#262670" stroke="#2e2e36" stroke-width="1.3"/>
<circle cx="332.7" cy="230.1" r="3.3" fill="#262670" stroke="#2e2e36" stroke-width="1.3"/>
<circle cx="347.7" cy="242.9" r="3.3" fill="#262670" stroke="#2e2e36" stroke-width="1.3"/>
<circle cx="96.0" cy="244.5" r="3.3" fill="#262670" stroke="#2e2e36" stroke-width="1.3"/>
<circle cx="283.0" cy="241.2" r="3.3" fill="#262670" stroke="#2e2e36" stroke-width="1.3"/>
<circle cx="127.8" cy="232.4" r="3.3" fill="#262670" stroke="#2e2e36" stroke-width="1.3"/>
<circle cx="153.1" cy="234.7" r="3.3" fill="#262670" stroke="#2e2e36" stroke-width="1.3"/>
<circle cx="279.1" cy="211.6" r="3.3" fill="#262670" stroke="#2e2e36" stroke-width="1.3"/>
<circle cx="135.7" cy="228.2" r="3.3" fill="#262670" stroke="#2e2e36" stroke-width="1.3"/>
<circle cx="193.3" cy="248.4" r="3.3" fill="#262670" stroke="#2e2e36" stroke-width="1.3"/>
<circle cx="232.6" cy="247.0" r="3.4" fill="#4c4c54" stroke="#38383c" stroke-width="0.9"/>
<circle cx="190.7" cy="228.5" r="3.3" fill="#262670" stroke="#2e2e36" stroke-width="1.3"/>
<circle cx="124.3" cy="243.8" r="3.3" fill="#262670" stroke="#2e2e36" stroke-width="1.3"/>
<circle cx="193.5" cy="227.1" r="3.3" fill="#262670" stroke="#2e2e36" stroke-width="1.3"/>
<circle cx="291.8" cy="239.8" r="3.3" fill="#262670" stroke="#2e2e36" stroke-width="1.3"/>
<circle cx="189.1" cy="231.7" r="3.3" fill="#262670" stroke="#2e2e36" stroke-width="1.3"/>
<circle cx="179.3" cy="242.8" r="3.3" fill="#262670" stroke="#2e2e36" stroke-width="1.3"/>
<circle cx="228.3" cy="234.7" r="3.3" fill="#262670" stroke="#2e2e36" stroke-width="1.3"/>
<circle cx="118.7" cy="227.4" r="3.3" fill="#262670" stroke="#2e2e36" stroke-width="1.3"/>
<circle cx="259.4" cy="234.7" r="3.3" fill="#262670" stroke="#2e2e36" stroke-width="1.3"/>
<circle cx="273.1" cy="201.4" r="3.3" fill="#262670" stroke="#2e2e36" stroke-width="1.3"/>
<circle cx="221.7" cy="235.5" r="3.3" fill="#262670" stroke="#2e2e36" stroke-width="1.3"/>
<circle cx="248.4" cy="196.8" r="3.3" fill="#262670" stroke="#2e2e36" stroke-width="1.3"/>
<circle cx="247.9" cy="200.5" r="3.4" fill="#4c4c54" stroke="#38383c" stroke-width="0.9"/>
<circle cx="333.4" cy="239.2" r="3.3" fill="#262670" stroke="#2e2e36" stroke-width="1.3"/>
<circle cx="329.4" cy="221.4" r="3.3" fill="#262670" stroke="#2e2e36" stroke-width="1.3"/>
<circle cx="262.7" cy="229.7" r="3.3" fill="#262670" stroke="#2e2e36" stroke-width="1.3"/>
<circle cx="143.9" cy="231.7" r="3.3" fill="#262670" stroke="#2e2e36" stroke-width="1.3"/>
<circle cx="92.6" cy="238.2" r="3.3" fill="#262670" stroke="#2e2e36" stroke-width="1.3"/>
<circle cx="273.6" cy="209.9" r="3.3" fill="#262670" stroke="#2e2e36" stroke-width="1.3"/>
<circle cx="174.7" cy="227.8" r="3.3" fill="#262670" stroke="#2e2e36" stroke-width="1.3"/>
<circle cx="129.0" cy="227.1" r="3.3" fill="#262670" stroke="#2e2e36" stroke-width="1.3"/>
<circle cx="117.9" cy="234.5" r="3.3" fill="#262670" stroke="#2e2e36" stroke-width="1.3"/>
<circle cx="106.4" cy="238.6" r="3.3" fill="#262670" stroke="#2e2e36" stroke-width="1.3"/>
<circle cx="232.5" cy="243.2" r="3.3" fill="#262670" stroke="#2e2e36" stroke-width="1.3"/>
<circle cx="276.0" cy="248.4" r="3.3" fill="#262670" stroke="#2e2e36" stroke-width="1.3"/>
<circle cx="258.2" cy="247.0" r="3.3" fill="#262670" stroke="#2e2e36" stroke-width="1.3"/>
<circle cx="273.2" cy="243.6" r="3.3" fill="#262670" stroke="#2e2e36" stroke-width="1.3"/>
<circle cx="340.7" cy="222.3" r="3.3" fill="#262670" stroke="#2e2e36" stroke-width="1.3"/>
<circle cx="237.3" cy="215.0" r="3.3" fill="#262670" stroke="#2e2e36" stroke-width="1.3"/>
<circle cx="279.3" cy="243.3" r="3.3" fill="#262670" stroke="#2e2e36" stroke-width="1.3"/>
<circle cx="160.6" cy="243.3" r="3.3" fill="#262670" stroke="#2e2e36" stroke-width="1.3"/>
<circle cx="104.6" cy="228.0" r="3.3" fill="#262670" stroke="#2e2e36" stroke-width="1.3"/>
<circle cx="287.6" cy="234.5" r="3.3" fill="#262670" stroke="#2e2e36" stroke-width="1.3"/>
<circle cx="344.9" cy="228.6" r="3.3" fill="#262670" stroke="#2e2e36" stroke-width="1.3"/>
<circle cx="244.6" cy="220.1" r="3.3" fill="#262670" stroke="#2e2e36" stroke-width="1.3"/>
<circle cx="107.9" cy="231.2" r="3.3" fill="#262670" stroke="#2e2e36" stroke-width="1.3"/>
<circle cx="186.2" cy="240.1" r="3.3" fill="#262670" stroke="#2e2e36" stroke-width="1.3"/>
<circle cx="298.3" cy="228.1" r="3.3" fill="#262670" stroke="#2e2e36" stroke-width="1.3"/>
<circle cx="316.1" cy="234.5" r="3.4" fill="#4c4c54" stroke="#38383c" stroke-width="0.9"/>
<circle cx="136.3" cy="222.3" r="3.3" fill="#262670" stroke="#2e2e36" stroke-width="1.3"/>
<circle cx="149.4" cy="244.7" r="3.3" fill="#262670" stroke="#2e2e36" stroke-width="1.3"/>
<circle cx="267.8" cy="231.1" r="3.3" fill="#262670" stroke="#2e2e36" stroke-width="1.3"/>
<circle cx="152.9" cy="243.6" r="3.3" fill="#262670" stroke="#2e2e36" stroke-width="1.3"/>
<circle cx="312.1" cy="239.2" r="3.3" fill="#262670" stroke="#2e2e36" stroke-width="1.3"/>
<circle cx="135.4" cy="248.4" r="3.3" fill="#262670" stroke="#2e2e36" stroke-width="1.3"/>
<circle cx="291.7" cy="248.1" r="3.3" fill="#262670" stroke="#2e2e36" stroke-width="1.3"/>
<circle cx="222.2" cy="220.2" r="3.3" fill="#262670" stroke="#2e2e36" stroke-width="1.3"/>
<circle cx="139.3" cy="231.4" r="3.3" fill="#262670" stroke="#2e2e36" stroke-width="1.3"/>
<circle cx="197.0" cy="248.0" r="3.3" fill="#262670" stroke="#2e2e36" stroke-width="1.3"/>
<circle cx="235.4" cy="228.0" r="3.3" fill="#262670" stroke="#2e2e36" stroke-width="1.3"/>
<circle cx="262.8" cy="247.9" r="3.3" fill="#262670" stroke="#2e2e36" stroke-width="1.3"/>
<circle cx="334.6" cy="248.4" r="3.3" fill="#262670" stroke="#2e2e36" stroke-width="1.3"/>
<circle cx="338.0" cy="219.6" r="3.3" fill="#262670" stroke="#2e2e36" stroke-width="1.3"/>
<circle cx="153.9" cy="248.4" r="3.3" fill="#262670" stroke="#2e2e36" stroke-width="1.3"/>
<circle cx="324.0" cy="226.1" r="3.3" fill="#262670" stroke="#2e2e36" stroke-width="1.3"/>
<circle cx="175.4" cy="225.9" r="3.3" fill="#262670" stroke="#2e2e36" stroke-width="1.3"/>
<circle cx="161.5" cy="248.4" r="3.3" fill="#262670" stroke="#2e2e36" stroke-width="1.3"/>
<circle cx="113.8" cy="222.3" r="3.3" fill="#262670" stroke="#2e2e36" stroke-width="1.3"/>
<circle cx="344.3" cy="248.4" r="3.3" fill="#262670" stroke="#2e2e36" stroke-width="1.3"/>
<circle cx="122.1" cy="224.1" r="3.3" fill="#262670" stroke="#2e2e36" stroke-width="1.3"/>
<circle cx="196.3" cy="239.3" r="3.3" fill="#262670" stroke="#2e2e36" stroke-width="1.3"/>
<circle cx="253.7" cy="210.4" r="3.3" fill="#262670" stroke="#2e2e36" stroke-width="1.3"/>
<circle cx="251.3" cy="239.2" r="3.3" fill="#262670" stroke="#2e2e36" stroke-width="1.3"/>
<circle cx="291.1" cy="222.3" r="3.3" fill="#262670" stroke="#2e2e36" stroke-width="1.3"/>
<circle cx="107.6" cy="221.3" r="3.3" fill="#262670" stroke="#2e2e36" stroke-width="1.3"/>
<circle cx="301.9" cy="243.9" r="3.3" fill="#262670" stroke="#2e2e36" stroke-width="1.3"/>
<circle cx="308.0" cy="230.4" r="3.3" fill="#262670" stroke="#2e2e36" stroke-width="1.3"/>
<circle cx="287.8" cy="217.7" r="3.3" fill="#262670" stroke="#2e2e36" stroke-width="1.3"/>
<circle cx="232.7" cy="236.0" r="3.3" fill="#262670" stroke="#2e2e36" stroke-width="1.3"/>
<circle cx="225.1" cy="232.2" r="3.3" fill="#262670" stroke="#2e2e36" stroke-width="1.3"/>
<circle cx="264.8" cy="213.8" r="3.3" fill="#262670" stroke="#2e2e36" stroke-width="1.3"/>
<circle cx="322.7" cy="218.8" r="3.3" fill="#262670" stroke="#2e2e36" stroke-width="1.3"/>
<circle cx="189.2" cy="235.6" r="3.3" fill="#262670" stroke="#2e2e36" stroke-width="1.3"/>
<circle cx="244.9" cy="210.9" r="3.3" fill="#262670" stroke="#2e2e36" stroke-width="1.3"/>
<circle cx="326.4" cy="248.0" r="3.3" fill="#262670" stroke="#2e2e36" stroke-width="1.3"/>
<circle cx="106.9" cy="246.4" r="3.3" fill="#262670" stroke="#2e2e36" stroke-width="1.3"/>
<circle cx="100.3" cy="239.3" r="3.3" fill="#262670" stroke="#2e2e36" stroke-width="1.3"/>
<circle cx="113.4" cy="239.0" r="3.3" fill="#262670" stroke="#2e2e36" stroke-width="1.3"/>
<circle cx="341.5" cy="237.8" r="3.4" fill="#4c4c54" stroke="#38383c" stroke-width="0.9"/>
<circle cx="139.4" cy="235.5" r="3.3" fill="#262670" stroke="#2e2e36" stroke-width="1.3"/>
<circle cx="144.1" cy="226.2" r="3.3" fill="#262670" stroke="#2e2e36" stroke-width="1.3"/>
<circle cx="183.4" cy="240.1" r="3.3" fill="#262670" stroke="#2e2e36" stroke-width="1.3"/>
<circle cx="104.0" cy="248.4" r="3.3" fill="#262670" stroke="#2e2e36" stroke-width="1.3"/>
<circle cx="286.3" cy="222.3" r="3.3" fill="#262670" stroke="#2e2e36" stroke-width="1.3"/>
<circle cx="158.2" cy="227.5" r="3.3" fill="#262670" stroke="#2e2e36" stroke-width="1.3"/>
<circle cx="126.0" cy="228.4" r="3.3" fill="#262670" stroke="#2e2e36" stroke-width="1.3"/>
<circle cx="251.0" cy="217.5" r="3.3" fill="#262670" stroke="#2e2e36" stroke-width="1.3"/>
<circle cx="283.9" cy="224.3" r="3.3" fill="#262670" stroke="#2e2e36" stroke-width="1.3"/>
<circle cx="247.2" cy="195.1" r="3.3" fill="#262670" stroke="#2e2e36" stroke-width="1.3"/>
<circle cx="275.1" cy="235.0" r="3.3" fill="#262670" stroke="#2e2e36" stroke-width="1.3"/>
<circle cx="222.7" cy="222.6" r="3.3" fill="#262670" stroke="#2e2e36" stroke-width="1.3"/>
<circle cx="314.8" cy="226.4" r="3.3" fill="#262670" stroke="#2e2e36" stroke-width="1.3"/>
<circle cx="117.4" cy="243.2" r="3.3" fill="#262670" stroke="#2e2e36" stroke-width="1.3"/>
<circle cx="219.2" cy="230.9" r="3.3" fill="#262670" stroke="#2e2e36" stroke-width="1.3"/>
<circle cx="163.9" cy="227.3" r="3.3" fill="#262670" stroke="#2e2e36" stroke-width="1.3"/>
<circle cx="277.1" cy="211.8" r="3.3" fill="#262670" stroke="#2e2e36" stroke-width="1.3"/>
<circle cx="311.3" cy="236.3" r="3.3" fill="#262670" stroke="#2e2e36" stroke-width="1.3"/>
<circle cx="160.0" cy="240.7" r="3.3" fill="#262670" stroke="#2e2e36" stroke-width="1.3"/>
<circle cx="147.3" cy="232.1" r="3.3" fill="#262670" stroke="#2e2e36" stroke-width="1.3"/>
<circle cx="246.7" cy="246.8" r="3.3" fill="#262670" stroke="#2e2e36" stroke-width="1.3"/>
<circle cx="248.6" cy="205.1" r="3.3" fill="#262670" stroke="#2e2e36" stroke-width="1.3"/>
<circle cx="232.1" cy="240.5" r="3.3" fill="#262670" stroke="#2e2e36" stroke-width="1.3"/>
<circle cx="243.3" cy="197.3" r="3.3" fill="#262670" stroke="#2e2e36" stroke-width="1.3"/>
<circle cx="290.4" cy="216.3" r="3.3" fill="#262670" stroke="#2e2e36" stroke-width="1.3"/>
<circle cx="294.0" cy="243.8" r="3.3" fill="#262670" stroke="#2e2e36" stroke-width="1.3"/>
<circle cx="142.9" cy="221.0" r="3.3" fill="#262670" stroke="#2e2e36" stroke-width="1.3"/>
<circle cx="99.6" cy="227.9" r="3.3" fill="#262670" stroke="#2e2e36" stroke-width="1.3"/>
<circle cx="117.8" cy="247.0" r="3.3" fill="#262670" stroke="#2e2e36" stroke-width="1.3"/>
<circle cx="95.9" cy="226.7" r="3.3" fill="#262670" stroke="#2e2e36" stroke-width="1.3"/>
<circle cx="250.1" cy="223.8" r="3.3" fill="#262670" stroke="#2e2e36" stroke-width="1.3"/>
<circle cx="342.0" cy="242.5" r="3.3" fill="#262670" stroke="#2e2e36" stroke-width="1.3"/>
<circle cx="243.2" cy="203.0" r="3.3" fill="#262670" stroke="#2e2e36" stroke-width="1.3"/>
<circle cx="265.0" cy="247.1" r="3.3" fill="#262670" stroke="#2e2e36" stroke-width="1.3"/>
<circle cx="106.5" cy="226.0" r="3.3" fill="#262670" stroke="#2e2e36" stroke-width="1.3"/>
<circle cx="254.5" cy="227.2" r="3.3" fill="#262670" stroke="#2e2e36" stroke-width="1.3"/>
<circle cx="175.4" cy="239.9" r="3.3" fill="#262670" stroke="#2e2e36" stroke-width="1.3"/>
<circle cx="135.8" cy="240.3" r="3.3" fill="#262670" stroke="#2e2e36" stroke-width="1.3"/>
<circle cx="313.0" cy="230.7" r="3.3" fill="#262670" stroke="#2e2e36" stroke-width="1.3"/>
<circle cx="272.4" cy="235.5" r="3.3" fill="#262670" stroke="#2e2e36" stroke-width="1.3"/>
<circle cx="146.6" cy="234.1" r="3.3" fill="#262670" stroke="#2e2e36" stroke-width="1.3"/>
<circle cx="272.0" cy="221.5" r="3.3" fill="#262670" stroke="#2e2e36" stroke-width="1.3"/>
<circle cx="323.4" cy="218.4" r="3.3" fill="#262670" stroke="#2e2e36" stroke-width="1.3"/>
<circle cx="114.5" cy="226.0" r="3.3" fill="#262670" stroke="#2e2e36" stroke-width="1.3"/>
<circle cx="232.7" cy="223.6" r="3.3" fill="#262670" stroke="#2e2e36" stroke-width="1.3"/>
<circle cx="172.6" cy="241.0" r="3.3" fill="#262670" stroke="#2e2e36" stroke-width="1.3"/>
<circle cx="279.3" cy="201.2" r="3.3" fill="#262670" stroke="#2e2e36" stroke-width="1.3"/>
<circle cx="267.9" cy="239.4" r="3.3" fill="#262670" stroke="#2e2e36" stroke-width="1.3"/>
<circle cx="269.0" cy="222.9" r="3.3" fill="#262670" stroke="#2e2e36" stroke-width="1.3"/>
<circle cx="246.4" cy="221.4" r="3.3" fill="#262670" stroke="#2e2e36" stroke-width="1.3"/>
<circle cx="186.0" cy="221.9" r="3.3" fill="#262670" stroke="#2e2e36" stroke-width="1.3"/>
<circle cx="140.5" cy="227.6" r="3.3" fill="#262670" stroke="#2e2e36" stroke-width="1.3"/>
<circle cx="192.5" cy="239.9" r="3.3" fill="#262670" stroke="#2e2e36" stroke-width="1.3"/>
<circle cx="219.7" cy="235.8" r="3.3" fill="#262670" stroke="#2e2e36" stroke-width="1.3"/>
<circle cx="190.2" cy="222.6" r="3.3" fill="#262670" stroke="#2e2e36" stroke-width="1.3"/>
<circle cx="196.9" cy="228.8" r="3.3" fill="#262670" stroke="#2e2e36" stroke-width="1.3"/>
<circle cx="330.6" cy="230.2" r="3.3" fill="#262670" stroke="#2e2e36" stroke-width="1.3"/>
<circle cx="319.8" cy="248.4" r="3.3" fill="#262670" stroke="#2e2e36" stroke-width="1.3"/>
<circle cx="254.5" cy="206.4" r="3.3" fill="#262670" stroke="#2e2e36" stroke-width="1.3"/>
<circle cx="336.5" cy="230.0" r="3.3" fill="#262670" stroke="#2e2e36" stroke-width="1.3"/>
<circle cx="241.0" cy="239.9" r="3.3" fill="#262670" stroke="#2e2e36" stroke-width="1.3"/>
<circle cx="338.5" cy="234.4" r="3.3" fill="#262670" stroke="#2e2e36" stroke-width="1.3"/>
<circle cx="280.6" cy="223.6" r="3.3" fill="#262670" stroke="#2e2e36" stroke-width="1.3"/>
<circle cx="229.2" cy="248.0" r="3.3" fill="#262670" stroke="#2e2e36" stroke-width="1.3"/>
<circle cx="124.3" cy="240.6" r="3.3" fill="#262670" stroke="#2e2e36" stroke-width="1.3"/>
<circle cx="265.2" cy="205.7" r="3.4" fill="#4c4c54" stroke="#38383c" stroke-width="0.9"/>
<circle cx="138.8" cy="247.6" r="3.3" fill="#262670" stroke="#2e2e36" stroke-width="1.3"/>
<circle cx="311.5" cy="248.4" r="3.3" fill="#262670" stroke="#2e2e36" stroke-width="1.3"/>
<circle cx="275.1" cy="228.0" r="3.3" fill="#262670" stroke="#2e2e36" stroke-width="1.3"/>
<circle cx="95.4" cy="231.0" r="3.3" fill="#262670" stroke="#2e2e36" stroke-width="1.3"/>
<circle cx="236.9" cy="224.3" r="3.3" fill="#262670" stroke="#2e2e36" stroke-width="1.3"/>
<circle cx="215.9" cy="229.7" r="3.3" fill="#262670" stroke="#2e2e36" stroke-width="1.3"/>
<circle cx="311.0" cy="223.4" r="3.3" fill="#262670" stroke="#2e2e36" stroke-width="1.3"/>
<circle cx="279.6" cy="234.7" r="3.3" fill="#262670" stroke="#2e2e36" stroke-width="1.3"/>
<circle cx="122.0" cy="235.2" r="3.3" fill="#262670" stroke="#2e2e36" stroke-width="1.3"/>
<circle cx="250.8" cy="197.6" r="3.3" fill="#262670" stroke="#2e2e36" stroke-width="1.3"/>
<circle cx="228.6" cy="243.1" r="3.3" fill="#262670" stroke="#2e2e36" stroke-width="1.3"/>
<circle cx="197.2" cy="232.8" r="3.3" fill="#262670" stroke="#2e2e36" stroke-width="1.3"/>
<circle cx="275.7" cy="243.7" r="3.3" fill="#262670" stroke="#2e2e36" stroke-width="1.3"/>
<circle cx="319.3" cy="216.2" r="3.3" fill="#262670" stroke="#2e2e36" stroke-width="1.3"/>
<circle cx="344.8" cy="222.8" r="3.3" fill="#262670" stroke="#2e2e36" stroke-width="1.3"/>
<circle cx="135.4" cy="223.5" r="3.3" fill="#262670" stroke="#2e2e36" stroke-width="1.3"/>
<circle cx="53.1" cy="217.7" r="3.4" fill="#272772" stroke="#2a2a38" stroke-width="0.9"/>
<circle cx="69.9" cy="200.3" r="3.4" fill="#272772" stroke="#2a2a38" stroke-width="0.9"/>
<circle cx="73.2" cy="193.8" r="3.4" fill="#272772" stroke="#2a2a38" stroke-width="0.9"/>
<circle cx="63.5" cy="238.2" r="3.4" fill="#272772" stroke="#2a2a38" stroke-width="0.9"/>
<circle cx="73.6" cy="224.4" r="3.4" fill="#969896" stroke="#4a4a4a" stroke-width="0.9"/>
<circle cx="130.6" cy="210.2" r="3.4" fill="#969896" stroke="#4a4a4a" stroke-width="0.9"/>
<circle cx="71.7" cy="236.9" r="3.4" fill="#969896" stroke="#4a4a4a" stroke-width="0.9"/>
<circle cx="76.4" cy="236.3" r="3.4" fill="#969896" stroke="#4a4a4a" stroke-width="0.9"/>
<circle cx="74.5" cy="241.0" r="3.4" fill="#969896" stroke="#4a4a4a" stroke-width="0.9"/>
<circle cx="78.2" cy="240.0" r="3.4" fill="#969896" stroke="#4a4a4a" stroke-width="0.9"/>
<circle cx="74.5" cy="244.7" r="3.4" fill="#969896" stroke="#4a4a4a" stroke-width="0.9"/>
<circle cx="84.8" cy="239.1" r="3.4" fill="#969896" stroke="#4a4a4a" stroke-width="0.9"/>
<circle cx="86.6" cy="241.0" r="3.4" fill="#969896" stroke="#4a4a4a" stroke-width="0.9"/>
<circle cx="80.0" cy="245.0" r="3.4" fill="#969896" stroke="#4a4a4a" stroke-width="0.9"/>
<circle cx="77.0" cy="247.0" r="3.4" fill="#969896" stroke="#4a4a4a" stroke-width="0.9"/>
<circle cx="87.6" cy="244.3" r="3.4" fill="#272772" stroke="#2a2a38" stroke-width="0.9"/>
<circle cx="91.9" cy="229.8" r="3.4" fill="#272772" stroke="#2a2a38" stroke-width="0.9"/>
<circle cx="220.6" cy="73.0" r="3.4" fill="#272772" stroke="#2a2a38" stroke-width="0.9"/>
<circle cx="220.6" cy="75.6" r="3.4" fill="#272772" stroke="#2a2a38" stroke-width="0.9"/>
<circle cx="222.3" cy="101.5" r="3.4" fill="#272772" stroke="#2a2a38" stroke-width="0.9"/>
<circle cx="234.6" cy="111.2" r="3.4" fill="#272772" stroke="#2a2a38" stroke-width="0.9"/>
<circle cx="230.0" cy="118.0" r="3.4" fill="#272772" stroke="#2a2a38" stroke-width="0.9"/>
<circle cx="227.0" cy="119.0" r="3.4" fill="#272772" stroke="#2a2a38" stroke-width="0.9"/>
<circle cx="221.5" cy="120.7" r="3.4" fill="#272772" stroke="#2a2a38" stroke-width="0.9"/>
<circle cx="228.7" cy="127.8" r="3.4" fill="#272772" stroke="#2a2a38" stroke-width="0.9"/>
<circle cx="231.5" cy="132.2" r="3.4" fill="#272772" stroke="#2a2a38" stroke-width="0.9"/>
<circle cx="235.0" cy="133.7" r="3.4" fill="#272772" stroke="#2a2a38" stroke-width="0.9"/>
<circle cx="245.0" cy="131.0" r="3.4" fill="#272772" stroke="#2a2a38" stroke-width="0.9"/>
<circle cx="242.8" cy="141.4" r="3.4" fill="#272772" stroke="#2a2a38" stroke-width="0.9"/>
<circle cx="232.5" cy="144.8" r="3.4" fill="#272772" stroke="#2a2a38" stroke-width="0.9"/>
<circle cx="220.7" cy="151.3" r="3.4" fill="#272772" stroke="#2a2a38" stroke-width="0.9"/>
<circle cx="228.6" cy="151.3" r="3.4" fill="#272772" stroke="#2a2a38" stroke-width="0.9"/>
<circle cx="237.4" cy="154.0" r="3.4" fill="#272772" stroke="#2a2a38" stroke-width="0.9"/>
<circle cx="237.8" cy="157.6" r="3.4" fill="#272772" stroke="#2a2a38" stroke-width="0.9"/>
<circle cx="228.6" cy="158.6" r="3.4" fill="#272772" stroke="#2a2a38" stroke-width="0.9"/>
<circle cx="252.0" cy="163.5" r="3.4" fill="#272772" stroke="#2a2a38" stroke-width="0.9"/>
<circle cx="250.6" cy="165.5" r="3.4" fill="#272772" stroke="#2a2a38" stroke-width="0.9"/>
<circle cx="216.6" cy="171.8" r="3.4" fill="#272772" stroke="#2a2a38" stroke-width="0.9"/>
<circle cx="227.0" cy="171.8" r="3.4" fill="#969896" stroke="#4a4a4a" stroke-width="0.9"/>
<circle cx="234.9" cy="168.4" r="3.4" fill="#272772" stroke="#2a2a38" stroke-width="0.9"/>
<circle cx="231.9" cy="172.4" r="3.4" fill="#272772" stroke="#2a2a38" stroke-width="0.9"/>
<circle cx="237.8" cy="170.6" r="3.4" fill="#272772" stroke="#2a2a38" stroke-width="0.9"/>
<circle cx="241.0" cy="170.6" r="3.4" fill="#272772" stroke="#2a2a38" stroke-width="0.9"/>
<circle cx="244.7" cy="170.6" r="3.4" fill="#272772" stroke="#2a2a38" stroke-width="0.9"/>
<circle cx="235.9" cy="177.3" r="3.4" fill="#272772" stroke="#2a2a38" stroke-width="0.9"/>
<circle cx="243.7" cy="177.3" r="3.4" fill="#272772" stroke="#2a2a38" stroke-width="0.9"/>
<circle cx="234.9" cy="181.6" r="3.4" fill="#272772" stroke="#2a2a38" stroke-width="0.9"/>
<circle cx="253.6" cy="180.2" r="3.4" fill="#272772" stroke="#2a2a38" stroke-width="0.9"/>
<circle cx="253.6" cy="184.2" r="3.4" fill="#272772" stroke="#2a2a38" stroke-width="0.9"/>
<circle cx="254.2" cy="187.1" r="3.4" fill="#272772" stroke="#2a2a38" stroke-width="0.9"/>
<circle cx="200.4" cy="180.8" r="3.4" fill="#272772" stroke="#2a2a38" stroke-width="0.9"/>
<circle cx="199.0" cy="189.1" r="3.4" fill="#272772" stroke="#2a2a38" stroke-width="0.9"/>
<circle cx="163.5" cy="188.1" r="3.4" fill="#272772" stroke="#2a2a38" stroke-width="0.9"/>
<circle cx="215.6" cy="188.1" r="3.4" fill="#272772" stroke="#2a2a38" stroke-width="0.9"/>
<circle cx="215.6" cy="193.4" r="3.4" fill="#272772" stroke="#2a2a38" stroke-width="0.9"/>
<circle cx="212.2" cy="196.0" r="3.4" fill="#272772" stroke="#2a2a38" stroke-width="0.9"/>
<circle cx="276.3" cy="175.9" r="3.4" fill="#969896" stroke="#4a4a4a" stroke-width="0.9"/>
<circle cx="266.4" cy="193.4" r="3.4" fill="#969896" stroke="#4a4a4a" stroke-width="0.9"/>
<circle cx="215.9" cy="172.3" r="3.4" fill="#272772" stroke="#2a2a38" stroke-width="0.9"/>
<circle cx="231.7" cy="173.4" r="3.4" fill="#272772" stroke="#2a2a38" stroke-width="0.9"/>
<circle cx="236.3" cy="172.3" r="3.4" fill="#272772" stroke="#2a2a38" stroke-width="0.9"/>
<circle cx="242.0" cy="174.5" r="3.4" fill="#272772" stroke="#2a2a38" stroke-width="0.9"/>
<circle cx="237.4" cy="177.9" r="3.4" fill="#272772" stroke="#2a2a38" stroke-width="0.9"/>
<circle cx="234.0" cy="181.3" r="3.4" fill="#272772" stroke="#2a2a38" stroke-width="0.9"/>
<circle cx="243.1" cy="179.0" r="3.4" fill="#272772" stroke="#2a2a38" stroke-width="0.9"/>
<circle cx="253.3" cy="181.3" r="3.4" fill="#272772" stroke="#2a2a38" stroke-width="0.9"/>
<circle cx="254.4" cy="185.9" r="3.4" fill="#272772" stroke="#2a2a38" stroke-width="0.9"/>
<circle cx="215.4" cy="188.1" r="3.4" fill="#272772" stroke="#2a2a38" stroke-width="0.9"/>
<circle cx="217.0" cy="192.7" r="3.4" fill="#272772" stroke="#2a2a38" stroke-width="0.9"/>
<circle cx="210.2" cy="198.3" r="3.4" fill="#272772" stroke="#2a2a38" stroke-width="0.9"/>
<circle cx="213.6" cy="201.7" r="3.4" fill="#272772" stroke="#2a2a38" stroke-width="0.9"/>
<circle cx="211.3" cy="206.3" r="3.4" fill="#272772" stroke="#2a2a38" stroke-width="0.9"/>
<circle cx="215.9" cy="207.4" r="3.4" fill="#272772" stroke="#2a2a38" stroke-width="0.9"/>
<circle cx="219.3" cy="212.0" r="3.4" fill="#272772" stroke="#2a2a38" stroke-width="0.9"/>
<circle cx="204.5" cy="213.1" r="3.4" fill="#272772" stroke="#2a2a38" stroke-width="0.9"/>
<circle cx="211.3" cy="214.2" r="3.4" fill="#272772" stroke="#2a2a38" stroke-width="0.9"/>
<circle cx="212.5" cy="221.0" r="3.4" fill="#272772" stroke="#2a2a38" stroke-width="0.9"/>
<circle cx="203.4" cy="218.8" r="3.4" fill="#969896" stroke="#4a4a4a" stroke-width="0.9"/>
<circle cx="209.0" cy="216.5" r="3.4" fill="#969896" stroke="#4a4a4a" stroke-width="0.9"/>
<circle cx="220.4" cy="218.8" r="3.4" fill="#969896" stroke="#4a4a4a" stroke-width="0.9"/>
<circle cx="234.0" cy="212.0" r="3.4" fill="#969896" stroke="#4a4a4a" stroke-width="0.9"/>
<circle cx="246.5" cy="217.6" r="3.4" fill="#969896" stroke="#4a4a4a" stroke-width="0.9"/>
<circle cx="202.3" cy="225.6" r="3.4" fill="#272772" stroke="#2a2a38" stroke-width="0.9"/>
<circle cx="239.7" cy="198.3" r="3.4" fill="#272772" stroke="#2a2a38" stroke-width="0.9"/>
<circle cx="244.2" cy="192.7" r="3.4" fill="#272772" stroke="#2a2a38" stroke-width="0.9"/>
<circle cx="248.8" cy="193.8" r="3.4" fill="#272772" stroke="#2a2a38" stroke-width="0.9"/>
<circle cx="246.5" cy="200.6" r="3.4" fill="#272772" stroke="#2a2a38" stroke-width="0.9"/>
<circle cx="252.2" cy="199.5" r="3.4" fill="#272772" stroke="#2a2a38" stroke-width="0.9"/>
<circle cx="249.9" cy="206.3" r="3.4" fill="#272772" stroke="#2a2a38" stroke-width="0.9"/>
<circle cx="254.4" cy="209.7" r="3.4" fill="#272772" stroke="#2a2a38" stroke-width="0.9"/>
<circle cx="266.9" cy="192.7" r="3.4" fill="#969896" stroke="#4a4a4a" stroke-width="0.9"/>
<circle cx="266.9" cy="199.5" r="3.4" fill="#272772" stroke="#2a2a38" stroke-width="0.9"/>
<circle cx="272.6" cy="197.2" r="3.4" fill="#272772" stroke="#2a2a38" stroke-width="0.9"/>
<circle cx="277.1" cy="198.3" r="3.4" fill="#272772" stroke="#2a2a38" stroke-width="0.9"/>
<circle cx="280.5" cy="204.0" r="3.4" fill="#272772" stroke="#2a2a38" stroke-width="0.9"/>
<circle cx="274.8" cy="204.0" r="3.4" fill="#272772" stroke="#2a2a38" stroke-width="0.9"/>
<circle cx="265.8" cy="206.3" r="3.4" fill="#272772" stroke="#2a2a38" stroke-width="0.9"/>
<circle cx="261.2" cy="209.7" r="3.4" fill="#272772" stroke="#2a2a38" stroke-width="0.9"/>
<circle cx="282.8" cy="202.9" r="3.4" fill="#272772" stroke="#2a2a38" stroke-width="0.9"/>
<circle cx="202.3" cy="242.6" r="3.4" fill="#272772" stroke="#2a2a38" stroke-width="0.9"/>
<circle cx="210.2" cy="235.8" r="3.4" fill="#969896" stroke="#4a4a4a" stroke-width="0.9"/>
<circle cx="211.3" cy="243.7" r="3.4" fill="#969896" stroke="#4a4a4a" stroke-width="0.9"/>
<circle cx="185.6" cy="199.5" r="3.4" fill="#272772" stroke="#2a2a38" stroke-width="0.9"/>
<circle cx="189.6" cy="198.5" r="3.4" fill="#969896" stroke="#4a4a4a" stroke-width="0.9"/>
<circle cx="162.4" cy="207.0" r="3.4" fill="#272772" stroke="#2a2a38" stroke-width="0.9"/>
<circle cx="161.6" cy="215.8" r="3.4" fill="#272772" stroke="#2a2a38" stroke-width="0.9"/>
<circle cx="182.4" cy="217.4" r="3.4" fill="#272772" stroke="#2a2a38" stroke-width="0.9"/>
<circle cx="191.2" cy="218.2" r="3.4" fill="#272772" stroke="#2a2a38" stroke-width="0.9"/>
<circle cx="198.4" cy="211.8" r="3.4" fill="#272772" stroke="#2a2a38" stroke-width="0.9"/>
<circle cx="204.8" cy="213.4" r="3.4" fill="#272772" stroke="#2a2a38" stroke-width="0.9"/>
<circle cx="209.6" cy="211.0" r="3.4" fill="#272772" stroke="#2a2a38" stroke-width="0.9"/>
<circle cx="199.2" cy="219.0" r="3.4" fill="#272772" stroke="#2a2a38" stroke-width="0.9"/>
<circle cx="203.2" cy="217.4" r="3.4" fill="#969896" stroke="#4a4a4a" stroke-width="0.9"/>
<circle cx="206.4" cy="220.6" r="3.4" fill="#969896" stroke="#4a4a4a" stroke-width="0.9"/>
<circle cx="208.0" cy="223.0" r="3.4" fill="#969896" stroke="#4a4a4a" stroke-width="0.9"/>
<circle cx="212.8" cy="220.6" r="3.4" fill="#272772" stroke="#2a2a38" stroke-width="0.9"/>
<circle cx="220.0" cy="211.0" r="3.4" fill="#272772" stroke="#2a2a38" stroke-width="0.9"/>
<circle cx="219.2" cy="217.4" r="3.4" fill="#969896" stroke="#4a4a4a" stroke-width="0.9"/>
<circle cx="234.4" cy="212.6" r="3.4" fill="#969896" stroke="#4a4a4a" stroke-width="0.9"/>
<circle cx="211.2" cy="197.4" r="3.4" fill="#272772" stroke="#2a2a38" stroke-width="0.9"/>
<circle cx="216.0" cy="196.6" r="3.4" fill="#272772" stroke="#2a2a38" stroke-width="0.9"/>
<circle cx="212.8" cy="203.0" r="3.4" fill="#272772" stroke="#2a2a38" stroke-width="0.9"/>
<circle cx="215.2" cy="207.8" r="3.4" fill="#272772" stroke="#2a2a38" stroke-width="0.9"/>
<circle cx="240.0" cy="199.0" r="3.4" fill="#272772" stroke="#2a2a38" stroke-width="0.9"/>
<circle cx="200.8" cy="227.8" r="3.4" fill="#272772" stroke="#2a2a38" stroke-width="0.9"/>
<circle cx="195.2" cy="230.2" r="3.4" fill="#272772" stroke="#2a2a38" stroke-width="0.9"/>
<circle cx="176.0" cy="225.4" r="3.4" fill="#272772" stroke="#2a2a38" stroke-width="0.9"/>
<circle cx="211.2" cy="236.6" r="3.4" fill="#969896" stroke="#4a4a4a" stroke-width="0.9"/>
<circle cx="212.0" cy="244.6" r="3.4" fill="#969896" stroke="#4a4a4a" stroke-width="0.9"/>
<circle cx="214.9" cy="188.7" r="3.4" fill="#272772" stroke="#2a2a38" stroke-width="0.9"/>
<circle cx="217.7" cy="194.3" r="3.4" fill="#272772" stroke="#2a2a38" stroke-width="0.9"/>
<circle cx="162.6" cy="207.0" r="3.4" fill="#272772" stroke="#2a2a38" stroke-width="0.9"/>
<circle cx="158.9" cy="213.0" r="3.4" fill="#272772" stroke="#2a2a38" stroke-width="0.9"/>
<circle cx="163.6" cy="218.6" r="3.4" fill="#272772" stroke="#2a2a38" stroke-width="0.9"/>
<circle cx="190.6" cy="218.6" r="3.4" fill="#272772" stroke="#2a2a38" stroke-width="0.9"/>
<circle cx="199.0" cy="213.0" r="3.4" fill="#272772" stroke="#2a2a38" stroke-width="0.9"/>
<circle cx="204.6" cy="220.4" r="3.4" fill="#969896" stroke="#4a4a4a" stroke-width="0.9"/>
<circle cx="219.6" cy="217.6" r="3.4" fill="#969896" stroke="#4a4a4a" stroke-width="0.9"/>
<circle cx="221.0" cy="211.0" r="3.4" fill="#272772" stroke="#2a2a38" stroke-width="0.9"/>
<circle cx="131.9" cy="209.3" r="3.4" fill="#969896" stroke="#4a4a4a" stroke-width="0.9"/>
<circle cx="137.5" cy="219.5" r="3.4" fill="#272772" stroke="#2a2a38" stroke-width="0.9"/>
<circle cx="198.8" cy="180.0" r="3.4" fill="#272772" stroke="#2a2a38" stroke-width="0.9"/>
<circle cx="197.6" cy="188.4" r="3.4" fill="#272772" stroke="#2a2a38" stroke-width="0.9"/>
<circle cx="306.8" cy="77.1" r="3.4" fill="#272772" stroke="#2a2a38" stroke-width="0.9"/>
<circle cx="305.5" cy="72.0" r="3.4" fill="#f5a623" stroke="#6a4a10" stroke-width="0.9"/>
<circle cx="306.0" cy="65.3" r="3.4" fill="#f5a623" stroke="#6a4a10" stroke-width="0.9"/>
<circle cx="306.5" cy="57.9" r="3.4" fill="#272772" stroke="#2a2a38" stroke-width="0.9"/>
<circle cx="306.8" cy="49.1" r="3.4" fill="#272772" stroke="#2a2a38" stroke-width="0.9"/>
<circle cx="306.8" cy="46.7" r="3.4" fill="#272772" stroke="#2a2a38" stroke-width="0.9"/>
<circle cx="296.2" cy="39.4" r="3.4" fill="#272772" stroke="#2a2a38" stroke-width="0.9"/>
<circle cx="296.2" cy="39.4" r="3.4" fill="#e21c1c" stroke="#6a1010" stroke-width="0.9"/>
<circle cx="300.6" cy="33.4" r="3.4" fill="#6a5290" stroke="#3a2a55" stroke-width="0.9"/>
<circle cx="306.0" cy="90.9" r="3.4" fill="#969896" stroke="#4a4a4a" stroke-width="0.9"/>
<circle cx="301.7" cy="95.2" r="3.4" fill="#272772" stroke="#2a2a38" stroke-width="0.9"/>
<circle cx="297.2" cy="99.5" r="3.4" fill="#272772" stroke="#2a2a38" stroke-width="0.9"/>
<circle cx="297.1" cy="101.3" r="3.4" fill="#272772" stroke="#2a2a38" stroke-width="0.9"/>
<circle cx="290.3" cy="117.3" r="3.4" fill="#272772" stroke="#2a2a38" stroke-width="0.9"/>
<circle cx="290.3" cy="121.6" r="3.4" fill="#272772" stroke="#2a2a38" stroke-width="0.9"/>
<circle cx="306.2" cy="116.7" r="3.4" fill="#272772" stroke="#2a2a38" stroke-width="0.9"/>
<circle cx="299.4" cy="122.2" r="3.4" fill="#e21c1c" stroke="#6a1010" stroke-width="0.9"/>
<circle cx="289.8" cy="131.2" r="3.4" fill="#272772" stroke="#2a2a38" stroke-width="0.9"/>
<circle cx="290.3" cy="146.5" r="3.4" fill="#272772" stroke="#2a2a38" stroke-width="0.9"/>
<circle cx="295.2" cy="154.2" r="3.4" fill="#272772" stroke="#2a2a38" stroke-width="0.9"/>
<circle cx="276.8" cy="176.6" r="3.4" fill="#969896" stroke="#4a4a4a" stroke-width="0.9"/>
<circle cx="266.2" cy="193.4" r="3.4" fill="#969896" stroke="#4a4a4a" stroke-width="0.9"/>
<circle cx="293.6" cy="186.4" r="3.4" fill="#272772" stroke="#2a2a38" stroke-width="0.9"/>
<circle cx="306.2" cy="185.0" r="3.4" fill="#272772" stroke="#2a2a38" stroke-width="0.9"/>
<circle cx="306.2" cy="194.3" r="3.4" fill="#272772" stroke="#2a2a38" stroke-width="0.9"/>
<circle cx="325.8" cy="186.4" r="3.4" fill="#272772" stroke="#2a2a38" stroke-width="0.9"/>
<circle cx="327.2" cy="196.2" r="3.4" fill="#272772" stroke="#2a2a38" stroke-width="0.9"/>
<circle cx="334.2" cy="194.8" r="3.4" fill="#272772" stroke="#2a2a38" stroke-width="0.9"/>
<circle cx="331.4" cy="203.2" r="3.4" fill="#272772" stroke="#2a2a38" stroke-width="0.9"/>
<circle cx="325.8" cy="207.4" r="3.4" fill="#272772" stroke="#2a2a38" stroke-width="0.9"/>
<circle cx="317.4" cy="208.8" r="3.4" fill="#272772" stroke="#2a2a38" stroke-width="0.9"/>
<circle cx="291.0" cy="213.9" r="3.4" fill="#969896" stroke="#4a4a4a" stroke-width="0.9"/>
<circle cx="300.3" cy="231.6" r="3.4" fill="#969896" stroke="#4a4a4a" stroke-width="0.9"/>
<circle cx="236.0" cy="212.0" r="3.4" fill="#969896" stroke="#4a4a4a" stroke-width="0.9"/>
<circle cx="246.2" cy="217.6" r="3.4" fill="#969896" stroke="#4a4a4a" stroke-width="0.9"/>
<circle cx="325.8" cy="197.4" r="3.4" fill="#272772" stroke="#2a2a38" stroke-width="0.9"/>
<circle cx="334.6" cy="197.4" r="3.4" fill="#272772" stroke="#2a2a38" stroke-width="0.9"/>
<circle cx="332.2" cy="203.0" r="3.4" fill="#272772" stroke="#2a2a38" stroke-width="0.9"/>
<circle cx="325.0" cy="206.2" r="3.4" fill="#272772" stroke="#2a2a38" stroke-width="0.9"/>
<circle cx="319.4" cy="207.0" r="3.4" fill="#272772" stroke="#2a2a38" stroke-width="0.9"/>
<circle cx="314.6" cy="208.6" r="3.4" fill="#272772" stroke="#2a2a38" stroke-width="0.9"/>
<circle cx="307.4" cy="217.4" r="3.4" fill="#272772" stroke="#2a2a38" stroke-width="0.9"/>
<circle cx="339.4" cy="215.0" r="3.4" fill="#272772" stroke="#2a2a38" stroke-width="0.9"/>
<circle cx="346.6" cy="219.8" r="3.4" fill="#272772" stroke="#2a2a38" stroke-width="0.9"/>
<circle cx="349.0" cy="227.0" r="3.4" fill="#272772" stroke="#2a2a38" stroke-width="0.9"/>
<circle cx="326.3" cy="187.1" r="3.4" fill="#272772" stroke="#2a2a38" stroke-width="0.9"/>
<circle cx="326.3" cy="196.7" r="3.4" fill="#272772" stroke="#2a2a38" stroke-width="0.9"/>
<circle cx="335.2" cy="197.5" r="3.4" fill="#272772" stroke="#2a2a38" stroke-width="0.9"/>
<circle cx="325.1" cy="206.8" r="3.4" fill="#272772" stroke="#2a2a38" stroke-width="0.9"/>
<circle cx="339.7" cy="214.4" r="3.4" fill="#272772" stroke="#2a2a38" stroke-width="0.9"/>
<circle cx="402.8" cy="189.1" r="3.4" fill="#272772" stroke="#2a2a38" stroke-width="0.9"/>
<circle cx="410.4" cy="184.6" r="3.4" fill="#272772" stroke="#2a2a38" stroke-width="0.9"/>
<circle cx="415.4" cy="212.4" r="3.4" fill="#272772" stroke="#2a2a38" stroke-width="0.9"/>
<circle cx="391.6" cy="221.3" r="3.4" fill="#272772" stroke="#2a2a38" stroke-width="0.9"/>
<circle cx="424.7" cy="172.0" r="3.4" fill="#272772" stroke="#2a2a38" stroke-width="0.9"/>
<circle cx="442.3" cy="220.8" r="3.4" fill="#272772" stroke="#2a2a38" stroke-width="0.9"/>
<circle cx="435.0" cy="243.7" r="3.4" fill="#272772" stroke="#2a2a38" stroke-width="0.9"/>
<circle cx="447.4" cy="243.9" r="3.4" fill="#272772" stroke="#2a2a38" stroke-width="0.9"/>
<circle cx="499.7" cy="244.3" r="3.4" fill="#272772" stroke="#2a2a38" stroke-width="0.9"/>
<circle cx="506.6" cy="246.6" r="3.4" fill="#272772" stroke="#2a2a38" stroke-width="0.9"/>
<circle cx="511.1" cy="245.9" r="3.4" fill="#272772" stroke="#2a2a38" stroke-width="0.9"/>
<circle cx="293.3" cy="192.7" r="3.4" fill="#272772" stroke="#2a2a38" stroke-width="0.9"/>
<circle cx="297.6" cy="193.8" r="3.4" fill="#969896" stroke="#4a4a4a" stroke-width="0.9"/>
<circle cx="303.8" cy="157.0" r="3.4" fill="#8ecbee" stroke="#3a5566" stroke-width="0.9"/>
<circle cx="300.0" cy="158.0" r="3.4" fill="#8ecbee" stroke="#3a5566" stroke-width="0.9"/>
<circle cx="296.8" cy="162.4" r="3.4" fill="#8ecbee" stroke="#3a5566" stroke-width="0.9"/>
<circle cx="299.0" cy="168.8" r="3.4" fill="#8ecbee" stroke="#3a5566" stroke-width="0.9"/>
<circle cx="288.0" cy="170.8" r="3.4" fill="#8ecbee" stroke="#3a5566" stroke-width="0.9"/>
<circle cx="290.8" cy="170.2" r="3.4" fill="#8ecbee" stroke="#3a5566" stroke-width="0.9"/>
<circle cx="295.6" cy="177.2" r="3.4" fill="#8ecbee" stroke="#3a5566" stroke-width="0.9"/>
<circle cx="288.2" cy="187.8" r="3.4" fill="#8ecbee" stroke="#3a5566" stroke-width="0.9"/>
<circle cx="302.0" cy="186.4" r="3.4" fill="#8ecbee" stroke="#3a5566" stroke-width="0.9"/>
<circle cx="303.4" cy="190.6" r="3.4" fill="#8ecbee" stroke="#3a5566" stroke-width="0.9"/>
<circle cx="303.1" cy="190.6" r="3.4" fill="#8ecbee" stroke="#3a5566" stroke-width="0.9"/>
<circle cx="303.7" cy="197.1" r="3.4" fill="#8ecbee" stroke="#3a5566" stroke-width="0.9"/>
<circle cx="303.4" cy="197.4" r="3.4" fill="#8ecbee" stroke="#3a5566" stroke-width="0.9"/>
<circle cx="295.9" cy="200.4" r="3.4" fill="#8ecbee" stroke="#3a5566" stroke-width="0.9"/>
<circle cx="289.2" cy="199.7" r="3.4" fill="#8ecbee" stroke="#3a5566" stroke-width="0.9"/>
<circle cx="287.8" cy="209.3" r="3.4" fill="#8ecbee" stroke="#3a5566" stroke-width="0.9"/>
<circle cx="295.2" cy="220.5" r="3.4" fill="#8ecbee" stroke="#3a5566" stroke-width="0.9"/>
<circle cx="308.7" cy="229.3" r="3.4" fill="#8ecbee" stroke="#3a5566" stroke-width="0.9"/>
<line x1="44.4" y1="0" x2="44.4" y2="259.5" stroke="#8a8a8a" stroke-width="1.2"/>
<line x1="43.8" y1="259.3" x2="557" y2="259.3" stroke="#8a8a8a" stroke-width="1.2"/>
<line x1="556.8" y1="0" x2="556.8" y2="259.9" stroke="#8a8a8a" stroke-width="1.2"/>
<line x1="44" y1="0.6" x2="557.4" y2="0.6" stroke="#666" stroke-width="1.4"/>
<line x1="38.4" y1="247.4" x2="44.4" y2="247.4" stroke="#8a8a8a" stroke-width="1.1"/>
<text x="31.5" y="251.1" font-family="Liberation Sans, sans-serif" font-size="10.3" fill="#444" text-anchor="end">0</text>
<line x1="38.4" y1="208.2" x2="44.4" y2="208.2" stroke="#8a8a8a" stroke-width="1.1"/>
<text x="31.5" y="211.9" font-family="Liberation Sans, sans-serif" font-size="10.3" fill="#444" text-anchor="end">2</text>
<line x1="38.4" y1="169.0" x2="44.4" y2="169.0" stroke="#8a8a8a" stroke-width="1.1"/>
<text x="31.5" y="172.7" font-family="Liberation Sans, sans-serif" font-size="10.3" fill="#444" text-anchor="end">4</text>
<line x1="38.4" y1="129.8" x2="44.4" y2="129.8" stroke="#8a8a8a" stroke-width="1.1"/>
<text x="31.5" y="133.5" font-family="Liberation Sans, sans-serif" font-size="10.3" fill="#444" text-anchor="end">6</text>
<line x1="38.4" y1="90.6" x2="44.4" y2="90.6" stroke="#8a8a8a" stroke-width="1.1"/>
<text x="31.5" y="94.3" font-family="Liberation Sans, sans-serif" font-size="10.3" fill="#444" text-anchor="end">8</text>
<line x1="38.4" y1="51.4" x2="44.4" y2="51.4" stroke="#8a8a8a" stroke-width="1.1"/>
<text x="31.5" y="55.1" font-family="Liberation Sans, sans-serif" font-size="10.3" fill="#444" text-anchor="end">10</text>
<line x1="38.4" y1="12.2" x2="44.4" y2="12.2" stroke="#8a8a8a" stroke-width="1.1"/>
<text x="31.5" y="15.9" font-family="Liberation Sans, sans-serif" font-size="10.3" fill="#444" text-anchor="end">12</text>
<line x1="556.8" y1="246.9" x2="563.2" y2="246.9" stroke="#7d81aa" stroke-width="1.1"/>
<text x="570.6" y="250.6" font-family="Liberation Sans, sans-serif" font-size="10.3" fill="#6068ac">0</text>
<line x1="556.8" y1="200.0" x2="563.2" y2="200.0" stroke="#7d81aa" stroke-width="1.1"/>
<text x="570.6" y="203.7" font-family="Liberation Sans, sans-serif" font-size="10.3" fill="#6068ac">20</text>
<line x1="556.8" y1="153.1" x2="563.2" y2="153.1" stroke="#7d81aa" stroke-width="1.1"/>
<text x="570.6" y="156.8" font-family="Liberation Sans, sans-serif" font-size="10.3" fill="#6068ac">40</text>
<line x1="556.8" y1="106.2" x2="563.2" y2="106.2" stroke="#7d81aa" stroke-width="1.1"/>
<text x="570.6" y="109.9" font-family="Liberation Sans, sans-serif" font-size="10.3" fill="#6068ac">60</text>
<line x1="556.8" y1="59.3" x2="563.2" y2="59.3" stroke="#7d81aa" stroke-width="1.1"/>
<text x="570.6" y="63.0" font-family="Liberation Sans, sans-serif" font-size="10.3" fill="#6068ac">80</text>
<line x1="556.8" y1="12.4" x2="563.2" y2="12.4" stroke="#7d81aa" stroke-width="1.1"/>
<text x="570.6" y="16.1" font-family="Liberation Sans, sans-serif" font-size="10.3" fill="#6068ac">100</text>
<text transform="translate(10.2,129.5) rotate(-90)" font-family="Liberation Sans, sans-serif" font-size="10.6" fill="#444" text-anchor="middle">−log<tspan font-size="7.5" dy="2">10</tspan><tspan dy="-2">(p−value)</tspan></text>
<text transform="translate(591.7,128) rotate(90)" font-family="Liberation Sans, sans-serif" font-size="10.6" fill="#6068ac" text-anchor="middle">Recombination rate (cM/Mb)</text>
<rect x="508.9" y="6.3" width="42.7" height="101.2" fill="#fff" stroke="#777" stroke-width="1"/>
<rect x="514.7" y="23.6" width="10.8" height="16.0" fill="#e4141c"/>
<rect x="514.7" y="39.6" width="10.8" height="15.9" fill="#f7a120"/>
<rect x="514.7" y="55.5" width="10.8" height="15.9" fill="#5cbb47"/>
<rect x="514.7" y="71.4" width="10.8" height="15.8" fill="#8ccbee"/>
<rect x="514.7" y="87.2" width="10.8" height="15.8" fill="#23246d"/>
<line x1="525.8" y1="39.6" x2="530.8" y2="39.6" stroke="#666" stroke-width="1"/>
<text x="533.4" y="42.9" font-family="Liberation Sans, sans-serif" font-size="9.1" fill="#333">0.8</text>
<line x1="525.8" y1="55.5" x2="530.8" y2="55.5" stroke="#666" stroke-width="1"/>
<text x="533.4" y="58.8" font-family="Liberation Sans, sans-serif" font-size="9.1" fill="#333">0.6</text>
<line x1="525.8" y1="71.4" x2="530.8" y2="71.4" stroke="#666" stroke-width="1"/>
<text x="533.4" y="74.7" font-family="Liberation Sans, sans-serif" font-size="9.1" fill="#333">0.4</text>
<line x1="525.8" y1="87.2" x2="530.8" y2="87.2" stroke="#666" stroke-width="1"/>
<text x="533.4" y="90.5" font-family="Liberation Sans, sans-serif" font-size="9.1" fill="#333">0.2</text>
<text x="526.6" y="19.9" font-family="Liberation Sans, sans-serif" font-size="9.6" fill="#333">r<tspan font-size="7.2" dy="-3.6">2</tspan></text>
<text x="115" y="80.6" font-family="Liberation Sans, sans-serif" font-size="18.7" fill="#111">rs231361</text>
<text x="108.5" y="104.3" font-family="Liberation Sans, sans-serif" font-size="18.7" fill="#111" letter-spacing="0.5"><tspan font-style="italic">p</tspan>=1.2x10<tspan font-size="11" dy="-5.5" letter-spacing="0">-9</tspan></text>
<text x="331.5" y="45.6" font-family="Liberation Sans, sans-serif" font-size="18.7" fill="#111">rs163184</text>
<text x="324.5" y="69.3" font-family="Liberation Sans, sans-serif" font-size="18.7" fill="#111" letter-spacing="0.5"><tspan font-style="italic">p</tspan>=1.2x10<tspan font-size="11" dy="-5.5" letter-spacing="0">-11</tspan></text>
<rect x="44" y="272.6" width="512.8" height="60.8" fill="none" stroke="#8a8a8a" stroke-width="1.2"/>
<text x="60.7" y="283.3" font-family="Liberation Sans, sans-serif" font-size="8.6" font-style="italic" font-weight="bold" fill="#111">CD81</text>
<line x1="84" y1="280.0" x2="90.5" y2="280.0" stroke="#111" stroke-width="1.2"/><path d="M89.2,277.8 L93,280.0 L89.2,282.2 Z" fill="#111"/>
<text x="189.7" y="283.2" font-family="Liberation Sans, sans-serif" font-size="8.6" font-style="italic" font-weight="bold" fill="#111">KCNQ1</text>
<line x1="221.2" y1="280.0" x2="228.5" y2="280.0" stroke="#111" stroke-width="1.2"/><path d="M227.2,277.8 L231,280.0 L227.2,282.2 Z" fill="#111"/>
<line x1="333.2" y1="280.0" x2="340" y2="280.0" stroke="#111" stroke-width="1.2"/><path d="M334.5,277.8 L330.7,280.0 L334.5,282.2 Z" fill="#111"/>
<text x="341.2" y="283.2" font-family="Liberation Sans, sans-serif" font-size="8.6" font-style="italic" font-weight="bold" fill="#111">PHLDA2</text>
<line x1="389.7" y1="280.0" x2="395.6" y2="280.0" stroke="#111" stroke-width="1.2"/><path d="M391.0,277.8 L387.2,280.0 L391.0,282.2 Z" fill="#111"/>
<text x="397.2" y="283.2" font-family="Liberation Sans, sans-serif" font-size="8.6" font-style="italic" font-weight="bold" fill="#111">CARS</text>
<line x1="434.9" y1="280.0" x2="441.1" y2="280.0" stroke="#111" stroke-width="1.2"/><path d="M436.2,277.8 L432.4,280.0 L436.2,282.2 Z" fill="#111"/>
<text x="442.3" y="283.2" font-family="Liberation Sans, sans-serif" font-size="8.6" font-style="italic" font-weight="bold" fill="#111">OSBPL5</text>
<text x="66" y="302.9" font-family="Liberation Sans, sans-serif" font-size="8.6" font-style="italic" font-weight="bold" fill="#111">TSSC4</text>
<line x1="95" y1="299.7" x2="101.9" y2="299.7" stroke="#111" stroke-width="1.2"/><path d="M100.60000000000001,297.5 L104.4,299.7 L100.60000000000001,301.9 Z" fill="#111"/>
<line x1="194.8" y1="299.7" x2="201" y2="299.7" stroke="#111" stroke-width="1.2"/><path d="M196.10000000000002,297.5 L192.3,299.7 L196.10000000000002,301.9 Z" fill="#111"/>
<text x="202.3" y="302.9" font-family="Liberation Sans, sans-serif" font-size="8.6" font-style="italic" font-weight="bold" fill="#111">KCNQ1OT1</text>
<text x="297.9" y="302.9" font-family="Liberation Sans, sans-serif" font-size="8.6" font-style="italic" font-weight="bold" fill="#111">KCNQ1DN</text>
<line x1="342.5" y1="299.7" x2="349.2" y2="299.7" stroke="#111" stroke-width="1.2"/><path d="M347.9,297.5 L351.7,299.7 L347.9,301.9 Z" fill="#111"/>
<line x1="478.4" y1="299.7" x2="485.2" y2="299.7" stroke="#111" stroke-width="1.2"/><path d="M479.7,297.5 L475.9,299.7 L479.7,301.9 Z" fill="#111"/>
<text x="486.7" y="302.9" font-family="Liberation Sans, sans-serif" font-size="8.6" font-style="italic" font-weight="bold" fill="#111">MRGPRG</text>
<line x1="71.2" y1="320.5" x2="78" y2="320.5" stroke="#111" stroke-width="1.2"/><path d="M72.5,318.3 L68.7,320.5 L72.5,322.7 Z" fill="#111"/>
<text x="80.2" y="323.7" font-family="Liberation Sans, sans-serif" font-size="8.6" font-style="italic" font-weight="bold" fill="#111">TRPM5</text>
<line x1="309.5" y1="320.5" x2="316.3" y2="320.5" stroke="#111" stroke-width="1.2"/><path d="M310.8,318.3 L307,320.5 L310.8,322.7 Z" fill="#111"/>
<text x="317.6" y="323.7" font-family="Liberation Sans, sans-serif" font-size="8.6" font-style="italic" font-weight="bold" fill="#111">CDKN1C</text>
<text x="480.5" y="323.7" font-family="Liberation Sans, sans-serif" font-size="8.6" font-style="italic" font-weight="bold" fill="#111">C11orf36</text>
<line x1="519.3" y1="320.5" x2="524.5" y2="320.5" stroke="#111" stroke-width="1.2"/><path d="M523.2,318.3 L527,320.5 L523.2,322.7 Z" fill="#111"/>
<line x1="71" y1="286.9" x2="81" y2="286.9" stroke="#7c82c0" stroke-width="1"/>
<rect x="71" y="285.6" width="1.2" height="2.6" fill="#25256f"/><rect x="78.5" y="285.4" width="2.5" height="3" fill="#25256f"/>
<line x1="105.5" y1="286.9" x2="312" y2="286.9" stroke="#7c82c0" stroke-width="0.95"/>
<rect x="104.9" y="285.3" width="1.3" height="3.2" fill="#25256f"/>
<rect x="112.4" y="285.3" width="1.3" height="3.2" fill="#25256f"/>
<rect x="147.4" y="285.3" width="1.3" height="3.2" fill="#25256f"/>
<rect x="169.9" y="285.3" width="1.3" height="3.2" fill="#25256f"/>
<rect x="176.9" y="285.3" width="1.3" height="3.2" fill="#25256f"/>
<rect x="177.9" y="285.3" width="1.3" height="3.2" fill="#25256f"/>
<rect x="216.70000000000002" y="285.3" width="1.3" height="3.2" fill="#25256f"/>
<rect x="271.9" y="285.3" width="1.3" height="3.2" fill="#25256f"/>
<rect x="275.0" y="285.3" width="1.3" height="3.2" fill="#25256f"/>
<rect x="311.0" y="285.3" width="1.3" height="3.2" fill="#25256f"/>
<rect x="170" y="285.2" width="2.2" height="3.4" fill="#25256f"/><rect x="274.8" y="285.2" width="2" height="3.4" fill="#25256f"/>
<rect x="353" y="284.8" width="1.3" height="3.6" fill="#25256f"/>
<line x1="390.5" y1="287" x2="419.6" y2="287" stroke="#7c82c0" stroke-width="0.95"/>
<rect x="390.5" y="285.3" width="1.6" height="3.4" fill="#25256f"/>
<rect x="392.8" y="285.3" width="1.6" height="3.4" fill="#25256f"/>
<rect x="398.3" y="285.3" width="2.4" height="3.4" fill="#25256f"/>
<rect x="403.7" y="285.3" width="1.6" height="3.4" fill="#25256f"/>
<rect x="410" y="285.3" width="2.4" height="3.4" fill="#25256f"/>
<rect x="416" y="285.3" width="1.0" height="3.4" fill="#25256f"/>
<rect x="419" y="285.3" width="0.9" height="3.4" fill="#25256f"/>
<line x1="434.9" y1="287" x2="475" y2="287" stroke="#7c82c0" stroke-width="0.95"/>
<rect x="434.9" y="285.3" width="1.6" height="3.4" fill="#25256f"/>
<rect x="437.2" y="285.3" width="1.6" height="3.4" fill="#25256f"/>
<rect x="442" y="285.3" width="2.4" height="3.4" fill="#25256f"/>
<rect x="451.3" y="285.3" width="2.3" height="3.4" fill="#25256f"/>
<rect x="455.8" y="285.3" width="1.0" height="3.4" fill="#25256f"/>
<rect x="474.2" y="285.3" width="0.9" height="3.4" fill="#25256f"/>
<rect x="83.2" y="305.6" width="1.2" height="3.6" fill="#25256f"/>
<rect x="206" y="306" width="30.5" height="3.2" fill="#25256f"/>
<rect x="323.1" y="305.2" width="1.3" height="3.9" fill="#25256f"/>
<rect x="501.2" y="305.8" width="0.9" height="3.4" fill="#7c82c0"/>
<rect x="84.8" y="326.6" width="9.7" height="2.9" fill="#25256f"/>
<rect x="330.7" y="325.6" width="1.3" height="4" fill="#25256f"/>
<rect x="502.6" y="325.8" width="1.6" height="3.4" fill="#25256f"/>
<line x1="72" y1="333.4" x2="72" y2="340.3" stroke="#8a8a8a" stroke-width="1.1"/>
<text x="72" y="357.1" font-family="Liberation Sans, sans-serif" font-size="10.6" fill="#333" text-anchor="middle">2.4</text>
<line x1="174.5" y1="333.4" x2="174.5" y2="340.3" stroke="#8a8a8a" stroke-width="1.1"/>
<text x="174.5" y="357.1" font-family="Liberation Sans, sans-serif" font-size="10.6" fill="#333" text-anchor="middle">2.6</text>
<line x1="277" y1="333.4" x2="277" y2="340.3" stroke="#8a8a8a" stroke-width="1.1"/>
<text x="277" y="357.1" font-family="Liberation Sans, sans-serif" font-size="10.6" fill="#333" text-anchor="middle">2.8</text>
<line x1="379.6" y1="333.4" x2="379.6" y2="340.3" stroke="#8a8a8a" stroke-width="1.1"/>
<text x="379.6" y="357.1" font-family="Liberation Sans, sans-serif" font-size="10.6" fill="#333" text-anchor="middle">3</text>
<line x1="482.2" y1="333.4" x2="482.2" y2="340.3" stroke="#8a8a8a" stroke-width="1.1"/>
<text x="482.2" y="357.1" font-family="Liberation Sans, sans-serif" font-size="10.6" fill="#333" text-anchor="middle">3.2</text>
<text x="247.4" y="371.6" font-family="Liberation Sans, sans-serif" font-size="10.6" fill="#222">Position on chr11 (Mb)</text>
<text x="570.5" y="298.8" font-family="Liberation Sans, sans-serif" font-size="10.4" fill="#444">5 genes</text>
<text x="570.5" y="314.3" font-family="Liberation Sans, sans-serif" font-size="10.4" fill="#444">omitted</text>
</svg>
</body></html>
